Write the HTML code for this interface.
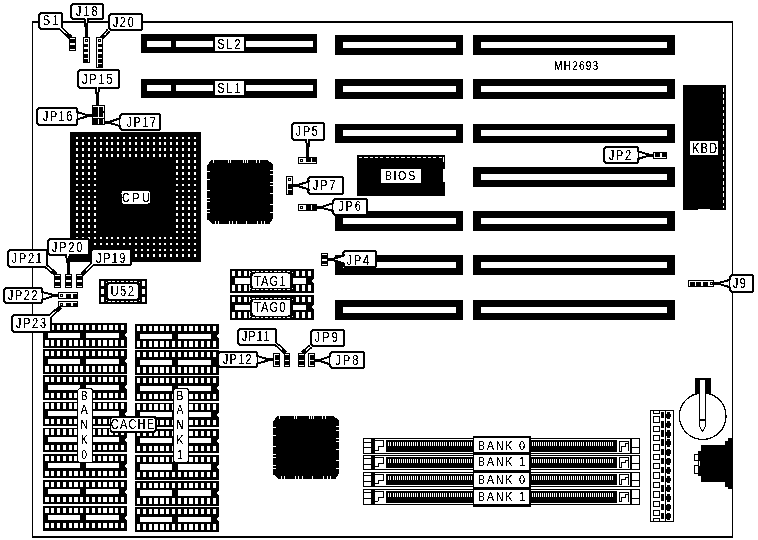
<!DOCTYPE html>
<html><head><meta charset="utf-8"><title>MH2693</title>
<style>
html,body{margin:0;padding:0;background:#fff;}
body{width:758px;height:540px;overflow:hidden;}
svg{display:block;font-family:"Liberation Sans",sans-serif;}
rect,polygon{shape-rendering:crispEdges;}
</style></head><body>
<svg width="758" height="540" viewBox="0 0 758 540">
<defs><filter id="bw" x="0" y="0" width="758" height="540" filterUnits="userSpaceOnUse" color-interpolation-filters="sRGB">
<feColorMatrix type="matrix" values="0.333 0.334 0.333 0 0  0.333 0.334 0.333 0 0  0.333 0.334 0.333 0 0  0 0 0 1 0"/>
<feComponentTransfer><feFuncR type="discrete" tableValues="0 0 0 1 1"/><feFuncG type="discrete" tableValues="0 0 0 1 1"/><feFuncB type="discrete" tableValues="0 0 0 1 1"/></feComponentTransfer>
</filter></defs>
<g filter="url(#bw)">
<rect x="0" y="0" width="758" height="540" fill="#fff"/>
<rect x="32.00" y="21.00" width="701.00" height="2.00" fill="#000" />
<rect x="32.00" y="536.00" width="701.00" height="2.00" fill="#000" />
<rect x="32.00" y="21.00" width="1.00" height="517.00" fill="#000" />
<rect x="732.00" y="21.00" width="1.00" height="517.00" fill="#000" />
<rect x="141.00" y="34.00" width="176.00" height="19.00" fill="#000" />
<rect x="147.00" y="41.00" width="24.00" height="6.00" fill="#fff" />
<rect x="176.00" y="41.00" width="137.00" height="6.00" fill="#fff" />
<rect x="141.00" y="79.00" width="176.00" height="19.00" fill="#000" />
<rect x="147.00" y="85.00" width="24.00" height="6.00" fill="#fff" />
<rect x="176.00" y="85.00" width="137.00" height="6.00" fill="#fff" />
<rect x="335.00" y="35.00" width="128.00" height="20.00" fill="#000" />
<rect x="343.00" y="42.00" width="113.00" height="6.00" fill="#fff" />
<rect x="473.00" y="35.00" width="202.00" height="20.00" fill="#000" />
<rect x="481.00" y="42.00" width="186.00" height="6.00" fill="#fff" />
<rect x="335.00" y="79.00" width="128.00" height="20.00" fill="#000" />
<rect x="343.00" y="86.00" width="113.00" height="6.00" fill="#fff" />
<rect x="473.00" y="79.00" width="202.00" height="20.00" fill="#000" />
<rect x="481.00" y="86.00" width="186.00" height="6.00" fill="#fff" />
<rect x="335.00" y="124.00" width="128.00" height="19.00" fill="#000" />
<rect x="343.00" y="130.00" width="113.00" height="6.00" fill="#fff" />
<rect x="473.00" y="124.00" width="202.00" height="19.00" fill="#000" />
<rect x="481.00" y="130.00" width="186.00" height="6.00" fill="#fff" />
<rect x="473.00" y="167.00" width="202.00" height="20.00" fill="#000" />
<rect x="481.00" y="174.00" width="186.00" height="6.00" fill="#fff" />
<rect x="335.00" y="211.00" width="128.00" height="20.00" fill="#000" />
<rect x="343.00" y="218.00" width="113.00" height="6.00" fill="#fff" />
<rect x="473.00" y="211.00" width="202.00" height="20.00" fill="#000" />
<rect x="481.00" y="218.00" width="186.00" height="6.00" fill="#fff" />
<rect x="335.00" y="255.00" width="128.00" height="20.00" fill="#000" />
<rect x="343.00" y="262.00" width="113.00" height="6.00" fill="#fff" />
<rect x="473.00" y="255.00" width="202.00" height="20.00" fill="#000" />
<rect x="481.00" y="262.00" width="186.00" height="6.00" fill="#fff" />
<rect x="335.00" y="300.00" width="128.00" height="20.00" fill="#000" />
<rect x="343.00" y="307.00" width="113.00" height="6.00" fill="#fff" />
<rect x="473.00" y="300.00" width="202.00" height="20.00" fill="#000" />
<rect x="481.00" y="307.00" width="186.00" height="6.00" fill="#fff" />
<rect x="70.00" y="132.00" width="131.20" height="129.60" fill="#000" />
<rect x="76.10" y="136.60" width="2.00" height="2.60" fill="#fff" />
<rect x="81.99" y="136.60" width="2.00" height="2.60" fill="#fff" />
<rect x="87.88" y="136.60" width="2.00" height="2.60" fill="#fff" />
<rect x="93.77" y="136.60" width="2.00" height="2.60" fill="#fff" />
<rect x="99.66" y="136.60" width="2.00" height="2.60" fill="#fff" />
<rect x="105.55" y="136.60" width="2.00" height="2.60" fill="#fff" />
<rect x="111.44" y="136.60" width="2.00" height="2.60" fill="#fff" />
<rect x="117.33" y="136.60" width="2.00" height="2.60" fill="#fff" />
<rect x="123.22" y="136.60" width="2.00" height="2.60" fill="#fff" />
<rect x="129.11" y="136.60" width="2.00" height="2.60" fill="#fff" />
<rect x="135.00" y="136.60" width="2.00" height="2.60" fill="#fff" />
<rect x="140.89" y="136.60" width="2.00" height="2.60" fill="#fff" />
<rect x="146.78" y="136.60" width="2.00" height="2.60" fill="#fff" />
<rect x="152.67" y="136.60" width="2.00" height="2.60" fill="#fff" />
<rect x="158.56" y="136.60" width="2.00" height="2.60" fill="#fff" />
<rect x="164.45" y="136.60" width="2.00" height="2.60" fill="#fff" />
<rect x="170.34" y="136.60" width="2.00" height="2.60" fill="#fff" />
<rect x="176.23" y="136.60" width="2.00" height="2.60" fill="#fff" />
<rect x="182.12" y="136.60" width="2.00" height="2.60" fill="#fff" />
<rect x="188.01" y="136.60" width="2.00" height="2.60" fill="#fff" />
<rect x="193.90" y="136.60" width="2.00" height="2.60" fill="#fff" />
<rect x="76.10" y="142.49" width="2.00" height="2.60" fill="#fff" />
<rect x="81.99" y="142.49" width="2.00" height="2.60" fill="#fff" />
<rect x="87.88" y="142.49" width="2.00" height="2.60" fill="#fff" />
<rect x="93.77" y="142.49" width="2.00" height="2.60" fill="#fff" />
<rect x="99.66" y="142.49" width="2.00" height="2.60" fill="#fff" />
<rect x="105.55" y="142.49" width="2.00" height="2.60" fill="#fff" />
<rect x="111.44" y="142.49" width="2.00" height="2.60" fill="#fff" />
<rect x="117.33" y="142.49" width="2.00" height="2.60" fill="#fff" />
<rect x="123.22" y="142.49" width="2.00" height="2.60" fill="#fff" />
<rect x="129.11" y="142.49" width="2.00" height="2.60" fill="#fff" />
<rect x="135.00" y="142.49" width="2.00" height="2.60" fill="#fff" />
<rect x="140.89" y="142.49" width="2.00" height="2.60" fill="#fff" />
<rect x="146.78" y="142.49" width="2.00" height="2.60" fill="#fff" />
<rect x="152.67" y="142.49" width="2.00" height="2.60" fill="#fff" />
<rect x="158.56" y="142.49" width="2.00" height="2.60" fill="#fff" />
<rect x="164.45" y="142.49" width="2.00" height="2.60" fill="#fff" />
<rect x="170.34" y="142.49" width="2.00" height="2.60" fill="#fff" />
<rect x="176.23" y="142.49" width="2.00" height="2.60" fill="#fff" />
<rect x="182.12" y="142.49" width="2.00" height="2.60" fill="#fff" />
<rect x="188.01" y="142.49" width="2.00" height="2.60" fill="#fff" />
<rect x="193.90" y="142.49" width="2.00" height="2.60" fill="#fff" />
<rect x="76.10" y="148.38" width="2.00" height="2.60" fill="#fff" />
<rect x="81.99" y="148.38" width="2.00" height="2.60" fill="#fff" />
<rect x="87.88" y="148.38" width="2.00" height="2.60" fill="#fff" />
<rect x="93.77" y="148.38" width="2.00" height="2.60" fill="#fff" />
<rect x="99.66" y="148.38" width="2.00" height="2.60" fill="#fff" />
<rect x="105.55" y="148.38" width="2.00" height="2.60" fill="#fff" />
<rect x="111.44" y="148.38" width="2.00" height="2.60" fill="#fff" />
<rect x="117.33" y="148.38" width="2.00" height="2.60" fill="#fff" />
<rect x="123.22" y="148.38" width="2.00" height="2.60" fill="#fff" />
<rect x="129.11" y="148.38" width="2.00" height="2.60" fill="#fff" />
<rect x="135.00" y="148.38" width="2.00" height="2.60" fill="#fff" />
<rect x="140.89" y="148.38" width="2.00" height="2.60" fill="#fff" />
<rect x="146.78" y="148.38" width="2.00" height="2.60" fill="#fff" />
<rect x="152.67" y="148.38" width="2.00" height="2.60" fill="#fff" />
<rect x="158.56" y="148.38" width="2.00" height="2.60" fill="#fff" />
<rect x="164.45" y="148.38" width="2.00" height="2.60" fill="#fff" />
<rect x="170.34" y="148.38" width="2.00" height="2.60" fill="#fff" />
<rect x="176.23" y="148.38" width="2.00" height="2.60" fill="#fff" />
<rect x="182.12" y="148.38" width="2.00" height="2.60" fill="#fff" />
<rect x="188.01" y="148.38" width="2.00" height="2.60" fill="#fff" />
<rect x="193.90" y="148.38" width="2.00" height="2.60" fill="#fff" />
<rect x="76.10" y="154.27" width="2.00" height="2.60" fill="#fff" />
<rect x="81.99" y="154.27" width="2.00" height="2.60" fill="#fff" />
<rect x="87.88" y="154.27" width="2.00" height="2.60" fill="#fff" />
<rect x="93.77" y="154.27" width="2.00" height="2.60" fill="#fff" />
<rect x="99.66" y="154.27" width="2.00" height="2.60" fill="#fff" />
<rect x="105.55" y="154.27" width="2.00" height="2.60" fill="#fff" />
<rect x="111.44" y="154.27" width="2.00" height="2.60" fill="#fff" />
<rect x="117.33" y="154.27" width="2.00" height="2.60" fill="#fff" />
<rect x="123.22" y="154.27" width="2.00" height="2.60" fill="#fff" />
<rect x="129.11" y="154.27" width="2.00" height="2.60" fill="#fff" />
<rect x="135.00" y="154.27" width="2.00" height="2.60" fill="#fff" />
<rect x="140.89" y="154.27" width="2.00" height="2.60" fill="#fff" />
<rect x="146.78" y="154.27" width="2.00" height="2.60" fill="#fff" />
<rect x="152.67" y="154.27" width="2.00" height="2.60" fill="#fff" />
<rect x="158.56" y="154.27" width="2.00" height="2.60" fill="#fff" />
<rect x="164.45" y="154.27" width="2.00" height="2.60" fill="#fff" />
<rect x="170.34" y="154.27" width="2.00" height="2.60" fill="#fff" />
<rect x="176.23" y="154.27" width="2.00" height="2.60" fill="#fff" />
<rect x="182.12" y="154.27" width="2.00" height="2.60" fill="#fff" />
<rect x="188.01" y="154.27" width="2.00" height="2.60" fill="#fff" />
<rect x="193.90" y="154.27" width="2.00" height="2.60" fill="#fff" />
<rect x="76.10" y="160.16" width="2.00" height="2.60" fill="#fff" />
<rect x="81.99" y="160.16" width="2.00" height="2.60" fill="#fff" />
<rect x="87.88" y="160.16" width="2.00" height="2.60" fill="#fff" />
<rect x="93.77" y="160.16" width="2.00" height="2.60" fill="#fff" />
<rect x="176.23" y="160.16" width="2.00" height="2.60" fill="#fff" />
<rect x="182.12" y="160.16" width="2.00" height="2.60" fill="#fff" />
<rect x="188.01" y="160.16" width="2.00" height="2.60" fill="#fff" />
<rect x="193.90" y="160.16" width="2.00" height="2.60" fill="#fff" />
<rect x="76.10" y="166.05" width="2.00" height="2.60" fill="#fff" />
<rect x="81.99" y="166.05" width="2.00" height="2.60" fill="#fff" />
<rect x="87.88" y="166.05" width="2.00" height="2.60" fill="#fff" />
<rect x="93.77" y="166.05" width="2.00" height="2.60" fill="#fff" />
<rect x="176.23" y="166.05" width="2.00" height="2.60" fill="#fff" />
<rect x="182.12" y="166.05" width="2.00" height="2.60" fill="#fff" />
<rect x="188.01" y="166.05" width="2.00" height="2.60" fill="#fff" />
<rect x="193.90" y="166.05" width="2.00" height="2.60" fill="#fff" />
<rect x="76.10" y="171.94" width="2.00" height="2.60" fill="#fff" />
<rect x="81.99" y="171.94" width="2.00" height="2.60" fill="#fff" />
<rect x="87.88" y="171.94" width="2.00" height="2.60" fill="#fff" />
<rect x="93.77" y="171.94" width="2.00" height="2.60" fill="#fff" />
<rect x="176.23" y="171.94" width="2.00" height="2.60" fill="#fff" />
<rect x="182.12" y="171.94" width="2.00" height="2.60" fill="#fff" />
<rect x="188.01" y="171.94" width="2.00" height="2.60" fill="#fff" />
<rect x="193.90" y="171.94" width="2.00" height="2.60" fill="#fff" />
<rect x="76.10" y="177.83" width="2.00" height="2.60" fill="#fff" />
<rect x="81.99" y="177.83" width="2.00" height="2.60" fill="#fff" />
<rect x="87.88" y="177.83" width="2.00" height="2.60" fill="#fff" />
<rect x="93.77" y="177.83" width="2.00" height="2.60" fill="#fff" />
<rect x="176.23" y="177.83" width="2.00" height="2.60" fill="#fff" />
<rect x="182.12" y="177.83" width="2.00" height="2.60" fill="#fff" />
<rect x="188.01" y="177.83" width="2.00" height="2.60" fill="#fff" />
<rect x="193.90" y="177.83" width="2.00" height="2.60" fill="#fff" />
<rect x="76.10" y="183.72" width="2.00" height="2.60" fill="#fff" />
<rect x="81.99" y="183.72" width="2.00" height="2.60" fill="#fff" />
<rect x="87.88" y="183.72" width="2.00" height="2.60" fill="#fff" />
<rect x="93.77" y="183.72" width="2.00" height="2.60" fill="#fff" />
<rect x="176.23" y="183.72" width="2.00" height="2.60" fill="#fff" />
<rect x="182.12" y="183.72" width="2.00" height="2.60" fill="#fff" />
<rect x="188.01" y="183.72" width="2.00" height="2.60" fill="#fff" />
<rect x="193.90" y="183.72" width="2.00" height="2.60" fill="#fff" />
<rect x="76.10" y="189.61" width="2.00" height="2.60" fill="#fff" />
<rect x="81.99" y="189.61" width="2.00" height="2.60" fill="#fff" />
<rect x="87.88" y="189.61" width="2.00" height="2.60" fill="#fff" />
<rect x="93.77" y="189.61" width="2.00" height="2.60" fill="#fff" />
<rect x="176.23" y="189.61" width="2.00" height="2.60" fill="#fff" />
<rect x="182.12" y="189.61" width="2.00" height="2.60" fill="#fff" />
<rect x="188.01" y="189.61" width="2.00" height="2.60" fill="#fff" />
<rect x="193.90" y="189.61" width="2.00" height="2.60" fill="#fff" />
<rect x="76.10" y="195.50" width="2.00" height="2.60" fill="#fff" />
<rect x="81.99" y="195.50" width="2.00" height="2.60" fill="#fff" />
<rect x="87.88" y="195.50" width="2.00" height="2.60" fill="#fff" />
<rect x="93.77" y="195.50" width="2.00" height="2.60" fill="#fff" />
<rect x="176.23" y="195.50" width="2.00" height="2.60" fill="#fff" />
<rect x="182.12" y="195.50" width="2.00" height="2.60" fill="#fff" />
<rect x="188.01" y="195.50" width="2.00" height="2.60" fill="#fff" />
<rect x="193.90" y="195.50" width="2.00" height="2.60" fill="#fff" />
<rect x="76.10" y="201.39" width="2.00" height="2.60" fill="#fff" />
<rect x="81.99" y="201.39" width="2.00" height="2.60" fill="#fff" />
<rect x="87.88" y="201.39" width="2.00" height="2.60" fill="#fff" />
<rect x="93.77" y="201.39" width="2.00" height="2.60" fill="#fff" />
<rect x="176.23" y="201.39" width="2.00" height="2.60" fill="#fff" />
<rect x="182.12" y="201.39" width="2.00" height="2.60" fill="#fff" />
<rect x="188.01" y="201.39" width="2.00" height="2.60" fill="#fff" />
<rect x="193.90" y="201.39" width="2.00" height="2.60" fill="#fff" />
<rect x="76.10" y="207.28" width="2.00" height="2.60" fill="#fff" />
<rect x="81.99" y="207.28" width="2.00" height="2.60" fill="#fff" />
<rect x="87.88" y="207.28" width="2.00" height="2.60" fill="#fff" />
<rect x="93.77" y="207.28" width="2.00" height="2.60" fill="#fff" />
<rect x="176.23" y="207.28" width="2.00" height="2.60" fill="#fff" />
<rect x="182.12" y="207.28" width="2.00" height="2.60" fill="#fff" />
<rect x="188.01" y="207.28" width="2.00" height="2.60" fill="#fff" />
<rect x="193.90" y="207.28" width="2.00" height="2.60" fill="#fff" />
<rect x="76.10" y="213.17" width="2.00" height="2.60" fill="#fff" />
<rect x="81.99" y="213.17" width="2.00" height="2.60" fill="#fff" />
<rect x="87.88" y="213.17" width="2.00" height="2.60" fill="#fff" />
<rect x="93.77" y="213.17" width="2.00" height="2.60" fill="#fff" />
<rect x="176.23" y="213.17" width="2.00" height="2.60" fill="#fff" />
<rect x="182.12" y="213.17" width="2.00" height="2.60" fill="#fff" />
<rect x="188.01" y="213.17" width="2.00" height="2.60" fill="#fff" />
<rect x="193.90" y="213.17" width="2.00" height="2.60" fill="#fff" />
<rect x="76.10" y="219.06" width="2.00" height="2.60" fill="#fff" />
<rect x="81.99" y="219.06" width="2.00" height="2.60" fill="#fff" />
<rect x="87.88" y="219.06" width="2.00" height="2.60" fill="#fff" />
<rect x="93.77" y="219.06" width="2.00" height="2.60" fill="#fff" />
<rect x="176.23" y="219.06" width="2.00" height="2.60" fill="#fff" />
<rect x="182.12" y="219.06" width="2.00" height="2.60" fill="#fff" />
<rect x="188.01" y="219.06" width="2.00" height="2.60" fill="#fff" />
<rect x="193.90" y="219.06" width="2.00" height="2.60" fill="#fff" />
<rect x="76.10" y="224.95" width="2.00" height="2.60" fill="#fff" />
<rect x="81.99" y="224.95" width="2.00" height="2.60" fill="#fff" />
<rect x="87.88" y="224.95" width="2.00" height="2.60" fill="#fff" />
<rect x="93.77" y="224.95" width="2.00" height="2.60" fill="#fff" />
<rect x="176.23" y="224.95" width="2.00" height="2.60" fill="#fff" />
<rect x="182.12" y="224.95" width="2.00" height="2.60" fill="#fff" />
<rect x="188.01" y="224.95" width="2.00" height="2.60" fill="#fff" />
<rect x="193.90" y="224.95" width="2.00" height="2.60" fill="#fff" />
<rect x="76.10" y="230.84" width="2.00" height="2.60" fill="#fff" />
<rect x="81.99" y="230.84" width="2.00" height="2.60" fill="#fff" />
<rect x="87.88" y="230.84" width="2.00" height="2.60" fill="#fff" />
<rect x="93.77" y="230.84" width="2.00" height="2.60" fill="#fff" />
<rect x="176.23" y="230.84" width="2.00" height="2.60" fill="#fff" />
<rect x="182.12" y="230.84" width="2.00" height="2.60" fill="#fff" />
<rect x="188.01" y="230.84" width="2.00" height="2.60" fill="#fff" />
<rect x="193.90" y="230.84" width="2.00" height="2.60" fill="#fff" />
<rect x="76.10" y="236.73" width="2.00" height="2.60" fill="#fff" />
<rect x="81.99" y="236.73" width="2.00" height="2.60" fill="#fff" />
<rect x="87.88" y="236.73" width="2.00" height="2.60" fill="#fff" />
<rect x="93.77" y="236.73" width="2.00" height="2.60" fill="#fff" />
<rect x="99.66" y="236.73" width="2.00" height="2.60" fill="#fff" />
<rect x="105.55" y="236.73" width="2.00" height="2.60" fill="#fff" />
<rect x="111.44" y="236.73" width="2.00" height="2.60" fill="#fff" />
<rect x="117.33" y="236.73" width="2.00" height="2.60" fill="#fff" />
<rect x="123.22" y="236.73" width="2.00" height="2.60" fill="#fff" />
<rect x="129.11" y="236.73" width="2.00" height="2.60" fill="#fff" />
<rect x="135.00" y="236.73" width="2.00" height="2.60" fill="#fff" />
<rect x="140.89" y="236.73" width="2.00" height="2.60" fill="#fff" />
<rect x="146.78" y="236.73" width="2.00" height="2.60" fill="#fff" />
<rect x="152.67" y="236.73" width="2.00" height="2.60" fill="#fff" />
<rect x="158.56" y="236.73" width="2.00" height="2.60" fill="#fff" />
<rect x="164.45" y="236.73" width="2.00" height="2.60" fill="#fff" />
<rect x="170.34" y="236.73" width="2.00" height="2.60" fill="#fff" />
<rect x="176.23" y="236.73" width="2.00" height="2.60" fill="#fff" />
<rect x="182.12" y="236.73" width="2.00" height="2.60" fill="#fff" />
<rect x="188.01" y="236.73" width="2.00" height="2.60" fill="#fff" />
<rect x="193.90" y="236.73" width="2.00" height="2.60" fill="#fff" />
<rect x="76.10" y="242.62" width="2.00" height="2.60" fill="#fff" />
<rect x="81.99" y="242.62" width="2.00" height="2.60" fill="#fff" />
<rect x="87.88" y="242.62" width="2.00" height="2.60" fill="#fff" />
<rect x="93.77" y="242.62" width="2.00" height="2.60" fill="#fff" />
<rect x="99.66" y="242.62" width="2.00" height="2.60" fill="#fff" />
<rect x="105.55" y="242.62" width="2.00" height="2.60" fill="#fff" />
<rect x="111.44" y="242.62" width="2.00" height="2.60" fill="#fff" />
<rect x="117.33" y="242.62" width="2.00" height="2.60" fill="#fff" />
<rect x="123.22" y="242.62" width="2.00" height="2.60" fill="#fff" />
<rect x="129.11" y="242.62" width="2.00" height="2.60" fill="#fff" />
<rect x="135.00" y="242.62" width="2.00" height="2.60" fill="#fff" />
<rect x="140.89" y="242.62" width="2.00" height="2.60" fill="#fff" />
<rect x="146.78" y="242.62" width="2.00" height="2.60" fill="#fff" />
<rect x="152.67" y="242.62" width="2.00" height="2.60" fill="#fff" />
<rect x="158.56" y="242.62" width="2.00" height="2.60" fill="#fff" />
<rect x="164.45" y="242.62" width="2.00" height="2.60" fill="#fff" />
<rect x="170.34" y="242.62" width="2.00" height="2.60" fill="#fff" />
<rect x="176.23" y="242.62" width="2.00" height="2.60" fill="#fff" />
<rect x="182.12" y="242.62" width="2.00" height="2.60" fill="#fff" />
<rect x="188.01" y="242.62" width="2.00" height="2.60" fill="#fff" />
<rect x="193.90" y="242.62" width="2.00" height="2.60" fill="#fff" />
<rect x="76.10" y="248.51" width="2.00" height="2.60" fill="#fff" />
<rect x="81.99" y="248.51" width="2.00" height="2.60" fill="#fff" />
<rect x="87.88" y="248.51" width="2.00" height="2.60" fill="#fff" />
<rect x="93.77" y="248.51" width="2.00" height="2.60" fill="#fff" />
<rect x="99.66" y="248.51" width="2.00" height="2.60" fill="#fff" />
<rect x="105.55" y="248.51" width="2.00" height="2.60" fill="#fff" />
<rect x="111.44" y="248.51" width="2.00" height="2.60" fill="#fff" />
<rect x="117.33" y="248.51" width="2.00" height="2.60" fill="#fff" />
<rect x="123.22" y="248.51" width="2.00" height="2.60" fill="#fff" />
<rect x="129.11" y="248.51" width="2.00" height="2.60" fill="#fff" />
<rect x="135.00" y="248.51" width="2.00" height="2.60" fill="#fff" />
<rect x="140.89" y="248.51" width="2.00" height="2.60" fill="#fff" />
<rect x="146.78" y="248.51" width="2.00" height="2.60" fill="#fff" />
<rect x="152.67" y="248.51" width="2.00" height="2.60" fill="#fff" />
<rect x="158.56" y="248.51" width="2.00" height="2.60" fill="#fff" />
<rect x="164.45" y="248.51" width="2.00" height="2.60" fill="#fff" />
<rect x="170.34" y="248.51" width="2.00" height="2.60" fill="#fff" />
<rect x="176.23" y="248.51" width="2.00" height="2.60" fill="#fff" />
<rect x="182.12" y="248.51" width="2.00" height="2.60" fill="#fff" />
<rect x="188.01" y="248.51" width="2.00" height="2.60" fill="#fff" />
<rect x="193.90" y="248.51" width="2.00" height="2.60" fill="#fff" />
<rect x="76.10" y="254.40" width="2.00" height="2.60" fill="#fff" />
<rect x="81.99" y="254.40" width="2.00" height="2.60" fill="#fff" />
<rect x="87.88" y="254.40" width="2.00" height="2.60" fill="#fff" />
<rect x="93.77" y="254.40" width="2.00" height="2.60" fill="#fff" />
<rect x="99.66" y="254.40" width="2.00" height="2.60" fill="#fff" />
<rect x="105.55" y="254.40" width="2.00" height="2.60" fill="#fff" />
<rect x="111.44" y="254.40" width="2.00" height="2.60" fill="#fff" />
<rect x="117.33" y="254.40" width="2.00" height="2.60" fill="#fff" />
<rect x="123.22" y="254.40" width="2.00" height="2.60" fill="#fff" />
<rect x="129.11" y="254.40" width="2.00" height="2.60" fill="#fff" />
<rect x="135.00" y="254.40" width="2.00" height="2.60" fill="#fff" />
<rect x="140.89" y="254.40" width="2.00" height="2.60" fill="#fff" />
<rect x="146.78" y="254.40" width="2.00" height="2.60" fill="#fff" />
<rect x="152.67" y="254.40" width="2.00" height="2.60" fill="#fff" />
<rect x="158.56" y="254.40" width="2.00" height="2.60" fill="#fff" />
<rect x="164.45" y="254.40" width="2.00" height="2.60" fill="#fff" />
<rect x="170.34" y="254.40" width="2.00" height="2.60" fill="#fff" />
<rect x="176.23" y="254.40" width="2.00" height="2.60" fill="#fff" />
<rect x="182.12" y="254.40" width="2.00" height="2.60" fill="#fff" />
<rect x="188.01" y="254.40" width="2.00" height="2.60" fill="#fff" />
<rect x="193.90" y="254.40" width="2.00" height="2.60" fill="#fff" />
<rect x="121.5" y="191" width="28.8" height="12.6" rx="2.5" fill="#fff"/>
<text transform="translate(122.04,201.90) scale(0.8,1)" font-size="13.6" letter-spacing="3.03" text-anchor="start" fill="#000">CPU</text>
<polygon points="211.00,160.00 267.40,160.00 273.00,164.00 273.00,218.00 269.60,224.00 213.00,224.00 207.00,219.30 207.00,166.00" fill="#000"/>
<rect x="210.00" y="163.00" width="2.00" height="3.00" fill="#000" />
<rect x="269.00" y="219.00" width="2.00" height="3.00" fill="#000" />
<rect x="213.00" y="160.00" width="1.00" height="3.00" fill="#fff" />
<rect x="228.00" y="160.00" width="1.00" height="3.00" fill="#fff" />
<rect x="230.00" y="160.00" width="1.00" height="3.00" fill="#fff" />
<rect x="243.00" y="160.00" width="1.00" height="3.00" fill="#fff" />
<rect x="245.00" y="160.00" width="1.00" height="3.00" fill="#fff" />
<rect x="247.00" y="160.00" width="1.00" height="3.00" fill="#fff" />
<rect x="256.00" y="160.00" width="1.00" height="3.00" fill="#fff" />
<rect x="259.00" y="160.00" width="1.00" height="3.00" fill="#fff" />
<rect x="215.00" y="221.00" width="1.00" height="3.00" fill="#fff" />
<rect x="218.00" y="221.00" width="1.00" height="3.00" fill="#fff" />
<rect x="229.00" y="221.00" width="1.00" height="3.00" fill="#fff" />
<rect x="232.00" y="221.00" width="1.00" height="3.00" fill="#fff" />
<rect x="236.00" y="221.00" width="1.00" height="3.00" fill="#fff" />
<rect x="246.00" y="221.00" width="1.00" height="3.00" fill="#fff" />
<rect x="257.00" y="221.00" width="1.00" height="3.00" fill="#fff" />
<rect x="261.00" y="221.00" width="1.00" height="3.00" fill="#fff" />
<rect x="264.00" y="221.00" width="1.00" height="3.00" fill="#fff" />
<rect x="207.00" y="171.00" width="3.00" height="1.00" fill="#fff" />
<rect x="207.00" y="179.00" width="3.00" height="1.00" fill="#fff" />
<rect x="207.00" y="190.00" width="3.00" height="1.00" fill="#fff" />
<rect x="207.00" y="198.00" width="3.00" height="1.00" fill="#fff" />
<rect x="207.00" y="201.00" width="3.00" height="1.00" fill="#fff" />
<rect x="207.00" y="209.00" width="3.00" height="1.00" fill="#fff" />
<rect x="207.00" y="212.00" width="3.00" height="1.00" fill="#fff" />
<rect x="270.00" y="170.00" width="3.00" height="1.00" fill="#fff" />
<rect x="270.00" y="174.00" width="3.00" height="1.00" fill="#fff" />
<rect x="270.00" y="182.00" width="3.00" height="1.00" fill="#fff" />
<rect x="270.00" y="185.00" width="3.00" height="1.00" fill="#fff" />
<rect x="270.00" y="193.00" width="3.00" height="1.00" fill="#fff" />
<rect x="270.00" y="204.00" width="3.00" height="1.00" fill="#fff" />
<rect x="270.00" y="212.00" width="3.00" height="1.00" fill="#fff" />
<polygon points="277.00,416.00 333.40,416.00 339.00,420.00 339.00,473.00 335.60,479.00 279.00,479.00 273.00,474.30 273.00,422.00" fill="#000"/>
<rect x="276.00" y="419.00" width="2.00" height="3.00" fill="#000" />
<rect x="335.00" y="474.00" width="2.00" height="3.00" fill="#000" />
<rect x="279.00" y="416.00" width="1.00" height="3.00" fill="#fff" />
<rect x="294.00" y="416.00" width="1.00" height="3.00" fill="#fff" />
<rect x="296.00" y="416.00" width="1.00" height="3.00" fill="#fff" />
<rect x="309.00" y="416.00" width="1.00" height="3.00" fill="#fff" />
<rect x="311.00" y="416.00" width="1.00" height="3.00" fill="#fff" />
<rect x="313.00" y="416.00" width="1.00" height="3.00" fill="#fff" />
<rect x="322.00" y="416.00" width="1.00" height="3.00" fill="#fff" />
<rect x="325.00" y="416.00" width="1.00" height="3.00" fill="#fff" />
<rect x="281.00" y="476.00" width="1.00" height="3.00" fill="#fff" />
<rect x="284.00" y="476.00" width="1.00" height="3.00" fill="#fff" />
<rect x="295.00" y="476.00" width="1.00" height="3.00" fill="#fff" />
<rect x="298.00" y="476.00" width="1.00" height="3.00" fill="#fff" />
<rect x="302.00" y="476.00" width="1.00" height="3.00" fill="#fff" />
<rect x="312.00" y="476.00" width="1.00" height="3.00" fill="#fff" />
<rect x="323.00" y="476.00" width="1.00" height="3.00" fill="#fff" />
<rect x="327.00" y="476.00" width="1.00" height="3.00" fill="#fff" />
<rect x="330.00" y="476.00" width="1.00" height="3.00" fill="#fff" />
<rect x="273.00" y="427.00" width="3.00" height="1.00" fill="#fff" />
<rect x="273.00" y="435.00" width="3.00" height="1.00" fill="#fff" />
<rect x="273.00" y="446.00" width="3.00" height="1.00" fill="#fff" />
<rect x="273.00" y="454.00" width="3.00" height="1.00" fill="#fff" />
<rect x="273.00" y="457.00" width="3.00" height="1.00" fill="#fff" />
<rect x="273.00" y="465.00" width="3.00" height="1.00" fill="#fff" />
<rect x="273.00" y="468.00" width="3.00" height="1.00" fill="#fff" />
<rect x="336.00" y="426.00" width="3.00" height="1.00" fill="#fff" />
<rect x="336.00" y="430.00" width="3.00" height="1.00" fill="#fff" />
<rect x="336.00" y="438.00" width="3.00" height="1.00" fill="#fff" />
<rect x="336.00" y="441.00" width="3.00" height="1.00" fill="#fff" />
<rect x="336.00" y="449.00" width="3.00" height="1.00" fill="#fff" />
<rect x="336.00" y="460.00" width="3.00" height="1.00" fill="#fff" />
<rect x="336.00" y="468.00" width="3.00" height="1.00" fill="#fff" />
<rect x="357.00" y="155.00" width="88.00" height="40.60" fill="#000" />
<rect x="443.00" y="169.00" width="2.00" height="12.60" fill="#fff" />
<path d="M359,157.5 H443" fill="none" stroke="#fff" stroke-width="1" stroke-dasharray="3.2,2.1" shape-rendering="crispEdges"/>
<rect x="443.00" y="157.00" width="1.00" height="5.00" fill="#fff" />
<rect x="381.00" y="169.00" width="40.00" height="14.00" fill="#fff" />
<text transform="translate(384.64,179.90) scale(0.8,1)" font-size="13.6" letter-spacing="1.97" text-anchor="start" fill="#000">BIOS</text>
<rect x="683.00" y="85.00" width="43.00" height="125.40" fill="#000" />
<rect x="698.00" y="209.40" width="12.00" height="1.20" fill="#fff" />
<path d="M723.5,88 V208" fill="none" stroke="#fff" stroke-width="1" stroke-dasharray="3.5,2.7" shape-rendering="crispEdges"/>
<rect x="690.00" y="141.00" width="28.00" height="13.60" fill="#fff" />
<text transform="translate(692.02,152.60) scale(0.8,1)" font-size="14" letter-spacing="1.34" text-anchor="start" fill="#000">KBD</text>
<rect x="43.30" y="323.30" width="84.00" height="24.70" fill="#000" />
<rect x="45.30" y="325.10" width="3.30" height="5.20" fill="#fff" />
<rect x="45.30" y="340.40" width="3.30" height="5.40" fill="#fff" />
<rect x="51.11" y="325.10" width="3.30" height="5.20" fill="#fff" />
<rect x="51.11" y="340.40" width="3.30" height="5.40" fill="#fff" />
<rect x="56.93" y="325.10" width="3.30" height="5.20" fill="#fff" />
<rect x="56.93" y="340.40" width="3.30" height="5.40" fill="#fff" />
<rect x="62.74" y="325.10" width="3.30" height="5.20" fill="#fff" />
<rect x="62.74" y="340.40" width="3.30" height="5.40" fill="#fff" />
<rect x="68.56" y="325.10" width="3.30" height="5.20" fill="#fff" />
<rect x="68.56" y="340.40" width="3.30" height="5.40" fill="#fff" />
<rect x="74.37" y="325.10" width="3.30" height="5.20" fill="#fff" />
<rect x="74.37" y="340.40" width="3.30" height="5.40" fill="#fff" />
<rect x="80.19" y="325.10" width="3.30" height="5.20" fill="#fff" />
<rect x="80.19" y="340.40" width="3.30" height="5.40" fill="#fff" />
<rect x="86.00" y="325.10" width="3.30" height="5.20" fill="#fff" />
<rect x="86.00" y="340.40" width="3.30" height="5.40" fill="#fff" />
<rect x="91.81" y="325.10" width="3.30" height="5.20" fill="#fff" />
<rect x="91.81" y="340.40" width="3.30" height="5.40" fill="#fff" />
<rect x="97.63" y="325.10" width="3.30" height="5.20" fill="#fff" />
<rect x="97.63" y="340.40" width="3.30" height="5.40" fill="#fff" />
<rect x="103.44" y="325.10" width="3.30" height="5.20" fill="#fff" />
<rect x="103.44" y="340.40" width="3.30" height="5.40" fill="#fff" />
<rect x="109.26" y="325.10" width="3.30" height="5.20" fill="#fff" />
<rect x="109.26" y="340.40" width="3.30" height="5.40" fill="#fff" />
<rect x="115.07" y="325.10" width="3.30" height="5.20" fill="#fff" />
<rect x="115.07" y="340.40" width="3.30" height="5.40" fill="#fff" />
<rect x="120.89" y="325.10" width="3.30" height="5.20" fill="#fff" />
<rect x="120.89" y="340.40" width="3.30" height="5.40" fill="#fff" />
<rect x="47.90" y="332.70" width="32.30" height="5.20" fill="#fff" />
<rect x="85.90" y="332.70" width="33.20" height="5.20" fill="#fff" />
<rect x="126.30" y="333.30" width="1.00" height="4.00" fill="#fff" />
<rect x="125.30" y="334.30" width="1.00" height="2.00" fill="#fff" />
<rect x="135.00" y="324.20" width="84.00" height="24.70" fill="#000" />
<rect x="137.00" y="326.00" width="3.30" height="5.20" fill="#fff" />
<rect x="137.00" y="341.30" width="3.30" height="5.40" fill="#fff" />
<rect x="142.81" y="326.00" width="3.30" height="5.20" fill="#fff" />
<rect x="142.81" y="341.30" width="3.30" height="5.40" fill="#fff" />
<rect x="148.63" y="326.00" width="3.30" height="5.20" fill="#fff" />
<rect x="148.63" y="341.30" width="3.30" height="5.40" fill="#fff" />
<rect x="154.44" y="326.00" width="3.30" height="5.20" fill="#fff" />
<rect x="154.44" y="341.30" width="3.30" height="5.40" fill="#fff" />
<rect x="160.26" y="326.00" width="3.30" height="5.20" fill="#fff" />
<rect x="160.26" y="341.30" width="3.30" height="5.40" fill="#fff" />
<rect x="166.07" y="326.00" width="3.30" height="5.20" fill="#fff" />
<rect x="166.07" y="341.30" width="3.30" height="5.40" fill="#fff" />
<rect x="171.89" y="326.00" width="3.30" height="5.20" fill="#fff" />
<rect x="171.89" y="341.30" width="3.30" height="5.40" fill="#fff" />
<rect x="177.70" y="326.00" width="3.30" height="5.20" fill="#fff" />
<rect x="177.70" y="341.30" width="3.30" height="5.40" fill="#fff" />
<rect x="183.51" y="326.00" width="3.30" height="5.20" fill="#fff" />
<rect x="183.51" y="341.30" width="3.30" height="5.40" fill="#fff" />
<rect x="189.33" y="326.00" width="3.30" height="5.20" fill="#fff" />
<rect x="189.33" y="341.30" width="3.30" height="5.40" fill="#fff" />
<rect x="195.14" y="326.00" width="3.30" height="5.20" fill="#fff" />
<rect x="195.14" y="341.30" width="3.30" height="5.40" fill="#fff" />
<rect x="200.96" y="326.00" width="3.30" height="5.20" fill="#fff" />
<rect x="200.96" y="341.30" width="3.30" height="5.40" fill="#fff" />
<rect x="206.77" y="326.00" width="3.30" height="5.20" fill="#fff" />
<rect x="206.77" y="341.30" width="3.30" height="5.40" fill="#fff" />
<rect x="212.59" y="326.00" width="3.30" height="5.20" fill="#fff" />
<rect x="212.59" y="341.30" width="3.30" height="5.40" fill="#fff" />
<rect x="139.60" y="333.60" width="32.30" height="5.20" fill="#fff" />
<rect x="177.60" y="333.60" width="33.20" height="5.20" fill="#fff" />
<rect x="218.00" y="334.20" width="1.00" height="4.00" fill="#fff" />
<rect x="217.00" y="335.20" width="1.00" height="2.00" fill="#fff" />
<rect x="43.30" y="349.38" width="84.00" height="24.70" fill="#000" />
<rect x="45.30" y="351.18" width="3.30" height="5.20" fill="#fff" />
<rect x="45.30" y="366.48" width="3.30" height="5.40" fill="#fff" />
<rect x="51.11" y="351.18" width="3.30" height="5.20" fill="#fff" />
<rect x="51.11" y="366.48" width="3.30" height="5.40" fill="#fff" />
<rect x="56.93" y="351.18" width="3.30" height="5.20" fill="#fff" />
<rect x="56.93" y="366.48" width="3.30" height="5.40" fill="#fff" />
<rect x="62.74" y="351.18" width="3.30" height="5.20" fill="#fff" />
<rect x="62.74" y="366.48" width="3.30" height="5.40" fill="#fff" />
<rect x="68.56" y="351.18" width="3.30" height="5.20" fill="#fff" />
<rect x="68.56" y="366.48" width="3.30" height="5.40" fill="#fff" />
<rect x="74.37" y="351.18" width="3.30" height="5.20" fill="#fff" />
<rect x="74.37" y="366.48" width="3.30" height="5.40" fill="#fff" />
<rect x="80.19" y="351.18" width="3.30" height="5.20" fill="#fff" />
<rect x="80.19" y="366.48" width="3.30" height="5.40" fill="#fff" />
<rect x="86.00" y="351.18" width="3.30" height="5.20" fill="#fff" />
<rect x="86.00" y="366.48" width="3.30" height="5.40" fill="#fff" />
<rect x="91.81" y="351.18" width="3.30" height="5.20" fill="#fff" />
<rect x="91.81" y="366.48" width="3.30" height="5.40" fill="#fff" />
<rect x="97.63" y="351.18" width="3.30" height="5.20" fill="#fff" />
<rect x="97.63" y="366.48" width="3.30" height="5.40" fill="#fff" />
<rect x="103.44" y="351.18" width="3.30" height="5.20" fill="#fff" />
<rect x="103.44" y="366.48" width="3.30" height="5.40" fill="#fff" />
<rect x="109.26" y="351.18" width="3.30" height="5.20" fill="#fff" />
<rect x="109.26" y="366.48" width="3.30" height="5.40" fill="#fff" />
<rect x="115.07" y="351.18" width="3.30" height="5.20" fill="#fff" />
<rect x="115.07" y="366.48" width="3.30" height="5.40" fill="#fff" />
<rect x="120.89" y="351.18" width="3.30" height="5.20" fill="#fff" />
<rect x="120.89" y="366.48" width="3.30" height="5.40" fill="#fff" />
<rect x="47.90" y="358.78" width="32.30" height="5.20" fill="#fff" />
<rect x="85.90" y="358.78" width="33.20" height="5.20" fill="#fff" />
<rect x="126.30" y="359.38" width="1.00" height="4.00" fill="#fff" />
<rect x="125.30" y="360.38" width="1.00" height="2.00" fill="#fff" />
<rect x="135.00" y="350.34" width="84.00" height="24.70" fill="#000" />
<rect x="137.00" y="352.14" width="3.30" height="5.20" fill="#fff" />
<rect x="137.00" y="367.44" width="3.30" height="5.40" fill="#fff" />
<rect x="142.81" y="352.14" width="3.30" height="5.20" fill="#fff" />
<rect x="142.81" y="367.44" width="3.30" height="5.40" fill="#fff" />
<rect x="148.63" y="352.14" width="3.30" height="5.20" fill="#fff" />
<rect x="148.63" y="367.44" width="3.30" height="5.40" fill="#fff" />
<rect x="154.44" y="352.14" width="3.30" height="5.20" fill="#fff" />
<rect x="154.44" y="367.44" width="3.30" height="5.40" fill="#fff" />
<rect x="160.26" y="352.14" width="3.30" height="5.20" fill="#fff" />
<rect x="160.26" y="367.44" width="3.30" height="5.40" fill="#fff" />
<rect x="166.07" y="352.14" width="3.30" height="5.20" fill="#fff" />
<rect x="166.07" y="367.44" width="3.30" height="5.40" fill="#fff" />
<rect x="171.89" y="352.14" width="3.30" height="5.20" fill="#fff" />
<rect x="171.89" y="367.44" width="3.30" height="5.40" fill="#fff" />
<rect x="177.70" y="352.14" width="3.30" height="5.20" fill="#fff" />
<rect x="177.70" y="367.44" width="3.30" height="5.40" fill="#fff" />
<rect x="183.51" y="352.14" width="3.30" height="5.20" fill="#fff" />
<rect x="183.51" y="367.44" width="3.30" height="5.40" fill="#fff" />
<rect x="189.33" y="352.14" width="3.30" height="5.20" fill="#fff" />
<rect x="189.33" y="367.44" width="3.30" height="5.40" fill="#fff" />
<rect x="195.14" y="352.14" width="3.30" height="5.20" fill="#fff" />
<rect x="195.14" y="367.44" width="3.30" height="5.40" fill="#fff" />
<rect x="200.96" y="352.14" width="3.30" height="5.20" fill="#fff" />
<rect x="200.96" y="367.44" width="3.30" height="5.40" fill="#fff" />
<rect x="206.77" y="352.14" width="3.30" height="5.20" fill="#fff" />
<rect x="206.77" y="367.44" width="3.30" height="5.40" fill="#fff" />
<rect x="212.59" y="352.14" width="3.30" height="5.20" fill="#fff" />
<rect x="212.59" y="367.44" width="3.30" height="5.40" fill="#fff" />
<rect x="139.60" y="359.74" width="32.30" height="5.20" fill="#fff" />
<rect x="177.60" y="359.74" width="33.20" height="5.20" fill="#fff" />
<rect x="218.00" y="360.34" width="1.00" height="4.00" fill="#fff" />
<rect x="217.00" y="361.34" width="1.00" height="2.00" fill="#fff" />
<rect x="43.30" y="375.46" width="84.00" height="24.70" fill="#000" />
<rect x="45.30" y="377.26" width="3.30" height="5.20" fill="#fff" />
<rect x="45.30" y="392.56" width="3.30" height="5.40" fill="#fff" />
<rect x="51.11" y="377.26" width="3.30" height="5.20" fill="#fff" />
<rect x="51.11" y="392.56" width="3.30" height="5.40" fill="#fff" />
<rect x="56.93" y="377.26" width="3.30" height="5.20" fill="#fff" />
<rect x="56.93" y="392.56" width="3.30" height="5.40" fill="#fff" />
<rect x="62.74" y="377.26" width="3.30" height="5.20" fill="#fff" />
<rect x="62.74" y="392.56" width="3.30" height="5.40" fill="#fff" />
<rect x="68.56" y="377.26" width="3.30" height="5.20" fill="#fff" />
<rect x="68.56" y="392.56" width="3.30" height="5.40" fill="#fff" />
<rect x="74.37" y="377.26" width="3.30" height="5.20" fill="#fff" />
<rect x="74.37" y="392.56" width="3.30" height="5.40" fill="#fff" />
<rect x="80.19" y="377.26" width="3.30" height="5.20" fill="#fff" />
<rect x="80.19" y="392.56" width="3.30" height="5.40" fill="#fff" />
<rect x="86.00" y="377.26" width="3.30" height="5.20" fill="#fff" />
<rect x="86.00" y="392.56" width="3.30" height="5.40" fill="#fff" />
<rect x="91.81" y="377.26" width="3.30" height="5.20" fill="#fff" />
<rect x="91.81" y="392.56" width="3.30" height="5.40" fill="#fff" />
<rect x="97.63" y="377.26" width="3.30" height="5.20" fill="#fff" />
<rect x="97.63" y="392.56" width="3.30" height="5.40" fill="#fff" />
<rect x="103.44" y="377.26" width="3.30" height="5.20" fill="#fff" />
<rect x="103.44" y="392.56" width="3.30" height="5.40" fill="#fff" />
<rect x="109.26" y="377.26" width="3.30" height="5.20" fill="#fff" />
<rect x="109.26" y="392.56" width="3.30" height="5.40" fill="#fff" />
<rect x="115.07" y="377.26" width="3.30" height="5.20" fill="#fff" />
<rect x="115.07" y="392.56" width="3.30" height="5.40" fill="#fff" />
<rect x="120.89" y="377.26" width="3.30" height="5.20" fill="#fff" />
<rect x="120.89" y="392.56" width="3.30" height="5.40" fill="#fff" />
<rect x="47.90" y="384.86" width="32.30" height="5.20" fill="#fff" />
<rect x="85.90" y="384.86" width="33.20" height="5.20" fill="#fff" />
<rect x="126.30" y="385.46" width="1.00" height="4.00" fill="#fff" />
<rect x="125.30" y="386.46" width="1.00" height="2.00" fill="#fff" />
<rect x="135.00" y="376.48" width="84.00" height="24.70" fill="#000" />
<rect x="137.00" y="378.28" width="3.30" height="5.20" fill="#fff" />
<rect x="137.00" y="393.58" width="3.30" height="5.40" fill="#fff" />
<rect x="142.81" y="378.28" width="3.30" height="5.20" fill="#fff" />
<rect x="142.81" y="393.58" width="3.30" height="5.40" fill="#fff" />
<rect x="148.63" y="378.28" width="3.30" height="5.20" fill="#fff" />
<rect x="148.63" y="393.58" width="3.30" height="5.40" fill="#fff" />
<rect x="154.44" y="378.28" width="3.30" height="5.20" fill="#fff" />
<rect x="154.44" y="393.58" width="3.30" height="5.40" fill="#fff" />
<rect x="160.26" y="378.28" width="3.30" height="5.20" fill="#fff" />
<rect x="160.26" y="393.58" width="3.30" height="5.40" fill="#fff" />
<rect x="166.07" y="378.28" width="3.30" height="5.20" fill="#fff" />
<rect x="166.07" y="393.58" width="3.30" height="5.40" fill="#fff" />
<rect x="171.89" y="378.28" width="3.30" height="5.20" fill="#fff" />
<rect x="171.89" y="393.58" width="3.30" height="5.40" fill="#fff" />
<rect x="177.70" y="378.28" width="3.30" height="5.20" fill="#fff" />
<rect x="177.70" y="393.58" width="3.30" height="5.40" fill="#fff" />
<rect x="183.51" y="378.28" width="3.30" height="5.20" fill="#fff" />
<rect x="183.51" y="393.58" width="3.30" height="5.40" fill="#fff" />
<rect x="189.33" y="378.28" width="3.30" height="5.20" fill="#fff" />
<rect x="189.33" y="393.58" width="3.30" height="5.40" fill="#fff" />
<rect x="195.14" y="378.28" width="3.30" height="5.20" fill="#fff" />
<rect x="195.14" y="393.58" width="3.30" height="5.40" fill="#fff" />
<rect x="200.96" y="378.28" width="3.30" height="5.20" fill="#fff" />
<rect x="200.96" y="393.58" width="3.30" height="5.40" fill="#fff" />
<rect x="206.77" y="378.28" width="3.30" height="5.20" fill="#fff" />
<rect x="206.77" y="393.58" width="3.30" height="5.40" fill="#fff" />
<rect x="212.59" y="378.28" width="3.30" height="5.20" fill="#fff" />
<rect x="212.59" y="393.58" width="3.30" height="5.40" fill="#fff" />
<rect x="139.60" y="385.88" width="32.30" height="5.20" fill="#fff" />
<rect x="177.60" y="385.88" width="33.20" height="5.20" fill="#fff" />
<rect x="218.00" y="386.48" width="1.00" height="4.00" fill="#fff" />
<rect x="217.00" y="387.48" width="1.00" height="2.00" fill="#fff" />
<rect x="43.30" y="401.54" width="84.00" height="24.70" fill="#000" />
<rect x="45.30" y="403.34" width="3.30" height="5.20" fill="#fff" />
<rect x="45.30" y="418.64" width="3.30" height="5.40" fill="#fff" />
<rect x="51.11" y="403.34" width="3.30" height="5.20" fill="#fff" />
<rect x="51.11" y="418.64" width="3.30" height="5.40" fill="#fff" />
<rect x="56.93" y="403.34" width="3.30" height="5.20" fill="#fff" />
<rect x="56.93" y="418.64" width="3.30" height="5.40" fill="#fff" />
<rect x="62.74" y="403.34" width="3.30" height="5.20" fill="#fff" />
<rect x="62.74" y="418.64" width="3.30" height="5.40" fill="#fff" />
<rect x="68.56" y="403.34" width="3.30" height="5.20" fill="#fff" />
<rect x="68.56" y="418.64" width="3.30" height="5.40" fill="#fff" />
<rect x="74.37" y="403.34" width="3.30" height="5.20" fill="#fff" />
<rect x="74.37" y="418.64" width="3.30" height="5.40" fill="#fff" />
<rect x="80.19" y="403.34" width="3.30" height="5.20" fill="#fff" />
<rect x="80.19" y="418.64" width="3.30" height="5.40" fill="#fff" />
<rect x="86.00" y="403.34" width="3.30" height="5.20" fill="#fff" />
<rect x="86.00" y="418.64" width="3.30" height="5.40" fill="#fff" />
<rect x="91.81" y="403.34" width="3.30" height="5.20" fill="#fff" />
<rect x="91.81" y="418.64" width="3.30" height="5.40" fill="#fff" />
<rect x="97.63" y="403.34" width="3.30" height="5.20" fill="#fff" />
<rect x="97.63" y="418.64" width="3.30" height="5.40" fill="#fff" />
<rect x="103.44" y="403.34" width="3.30" height="5.20" fill="#fff" />
<rect x="103.44" y="418.64" width="3.30" height="5.40" fill="#fff" />
<rect x="109.26" y="403.34" width="3.30" height="5.20" fill="#fff" />
<rect x="109.26" y="418.64" width="3.30" height="5.40" fill="#fff" />
<rect x="115.07" y="403.34" width="3.30" height="5.20" fill="#fff" />
<rect x="115.07" y="418.64" width="3.30" height="5.40" fill="#fff" />
<rect x="120.89" y="403.34" width="3.30" height="5.20" fill="#fff" />
<rect x="120.89" y="418.64" width="3.30" height="5.40" fill="#fff" />
<rect x="47.90" y="410.94" width="32.30" height="5.20" fill="#fff" />
<rect x="85.90" y="410.94" width="33.20" height="5.20" fill="#fff" />
<rect x="126.30" y="411.54" width="1.00" height="4.00" fill="#fff" />
<rect x="125.30" y="412.54" width="1.00" height="2.00" fill="#fff" />
<rect x="135.00" y="402.62" width="84.00" height="24.70" fill="#000" />
<rect x="137.00" y="404.42" width="3.30" height="5.20" fill="#fff" />
<rect x="137.00" y="419.72" width="3.30" height="5.40" fill="#fff" />
<rect x="142.81" y="404.42" width="3.30" height="5.20" fill="#fff" />
<rect x="142.81" y="419.72" width="3.30" height="5.40" fill="#fff" />
<rect x="148.63" y="404.42" width="3.30" height="5.20" fill="#fff" />
<rect x="148.63" y="419.72" width="3.30" height="5.40" fill="#fff" />
<rect x="154.44" y="404.42" width="3.30" height="5.20" fill="#fff" />
<rect x="154.44" y="419.72" width="3.30" height="5.40" fill="#fff" />
<rect x="160.26" y="404.42" width="3.30" height="5.20" fill="#fff" />
<rect x="160.26" y="419.72" width="3.30" height="5.40" fill="#fff" />
<rect x="166.07" y="404.42" width="3.30" height="5.20" fill="#fff" />
<rect x="166.07" y="419.72" width="3.30" height="5.40" fill="#fff" />
<rect x="171.89" y="404.42" width="3.30" height="5.20" fill="#fff" />
<rect x="171.89" y="419.72" width="3.30" height="5.40" fill="#fff" />
<rect x="177.70" y="404.42" width="3.30" height="5.20" fill="#fff" />
<rect x="177.70" y="419.72" width="3.30" height="5.40" fill="#fff" />
<rect x="183.51" y="404.42" width="3.30" height="5.20" fill="#fff" />
<rect x="183.51" y="419.72" width="3.30" height="5.40" fill="#fff" />
<rect x="189.33" y="404.42" width="3.30" height="5.20" fill="#fff" />
<rect x="189.33" y="419.72" width="3.30" height="5.40" fill="#fff" />
<rect x="195.14" y="404.42" width="3.30" height="5.20" fill="#fff" />
<rect x="195.14" y="419.72" width="3.30" height="5.40" fill="#fff" />
<rect x="200.96" y="404.42" width="3.30" height="5.20" fill="#fff" />
<rect x="200.96" y="419.72" width="3.30" height="5.40" fill="#fff" />
<rect x="206.77" y="404.42" width="3.30" height="5.20" fill="#fff" />
<rect x="206.77" y="419.72" width="3.30" height="5.40" fill="#fff" />
<rect x="212.59" y="404.42" width="3.30" height="5.20" fill="#fff" />
<rect x="212.59" y="419.72" width="3.30" height="5.40" fill="#fff" />
<rect x="139.60" y="412.02" width="32.30" height="5.20" fill="#fff" />
<rect x="177.60" y="412.02" width="33.20" height="5.20" fill="#fff" />
<rect x="218.00" y="412.62" width="1.00" height="4.00" fill="#fff" />
<rect x="217.00" y="413.62" width="1.00" height="2.00" fill="#fff" />
<rect x="43.30" y="427.62" width="84.00" height="24.70" fill="#000" />
<rect x="45.30" y="429.42" width="3.30" height="5.20" fill="#fff" />
<rect x="45.30" y="444.72" width="3.30" height="5.40" fill="#fff" />
<rect x="51.11" y="429.42" width="3.30" height="5.20" fill="#fff" />
<rect x="51.11" y="444.72" width="3.30" height="5.40" fill="#fff" />
<rect x="56.93" y="429.42" width="3.30" height="5.20" fill="#fff" />
<rect x="56.93" y="444.72" width="3.30" height="5.40" fill="#fff" />
<rect x="62.74" y="429.42" width="3.30" height="5.20" fill="#fff" />
<rect x="62.74" y="444.72" width="3.30" height="5.40" fill="#fff" />
<rect x="68.56" y="429.42" width="3.30" height="5.20" fill="#fff" />
<rect x="68.56" y="444.72" width="3.30" height="5.40" fill="#fff" />
<rect x="74.37" y="429.42" width="3.30" height="5.20" fill="#fff" />
<rect x="74.37" y="444.72" width="3.30" height="5.40" fill="#fff" />
<rect x="80.19" y="429.42" width="3.30" height="5.20" fill="#fff" />
<rect x="80.19" y="444.72" width="3.30" height="5.40" fill="#fff" />
<rect x="86.00" y="429.42" width="3.30" height="5.20" fill="#fff" />
<rect x="86.00" y="444.72" width="3.30" height="5.40" fill="#fff" />
<rect x="91.81" y="429.42" width="3.30" height="5.20" fill="#fff" />
<rect x="91.81" y="444.72" width="3.30" height="5.40" fill="#fff" />
<rect x="97.63" y="429.42" width="3.30" height="5.20" fill="#fff" />
<rect x="97.63" y="444.72" width="3.30" height="5.40" fill="#fff" />
<rect x="103.44" y="429.42" width="3.30" height="5.20" fill="#fff" />
<rect x="103.44" y="444.72" width="3.30" height="5.40" fill="#fff" />
<rect x="109.26" y="429.42" width="3.30" height="5.20" fill="#fff" />
<rect x="109.26" y="444.72" width="3.30" height="5.40" fill="#fff" />
<rect x="115.07" y="429.42" width="3.30" height="5.20" fill="#fff" />
<rect x="115.07" y="444.72" width="3.30" height="5.40" fill="#fff" />
<rect x="120.89" y="429.42" width="3.30" height="5.20" fill="#fff" />
<rect x="120.89" y="444.72" width="3.30" height="5.40" fill="#fff" />
<rect x="47.90" y="437.02" width="32.30" height="5.20" fill="#fff" />
<rect x="85.90" y="437.02" width="33.20" height="5.20" fill="#fff" />
<rect x="126.30" y="437.62" width="1.00" height="4.00" fill="#fff" />
<rect x="125.30" y="438.62" width="1.00" height="2.00" fill="#fff" />
<rect x="135.00" y="428.76" width="84.00" height="24.70" fill="#000" />
<rect x="137.00" y="430.56" width="3.30" height="5.20" fill="#fff" />
<rect x="137.00" y="445.86" width="3.30" height="5.40" fill="#fff" />
<rect x="142.81" y="430.56" width="3.30" height="5.20" fill="#fff" />
<rect x="142.81" y="445.86" width="3.30" height="5.40" fill="#fff" />
<rect x="148.63" y="430.56" width="3.30" height="5.20" fill="#fff" />
<rect x="148.63" y="445.86" width="3.30" height="5.40" fill="#fff" />
<rect x="154.44" y="430.56" width="3.30" height="5.20" fill="#fff" />
<rect x="154.44" y="445.86" width="3.30" height="5.40" fill="#fff" />
<rect x="160.26" y="430.56" width="3.30" height="5.20" fill="#fff" />
<rect x="160.26" y="445.86" width="3.30" height="5.40" fill="#fff" />
<rect x="166.07" y="430.56" width="3.30" height="5.20" fill="#fff" />
<rect x="166.07" y="445.86" width="3.30" height="5.40" fill="#fff" />
<rect x="171.89" y="430.56" width="3.30" height="5.20" fill="#fff" />
<rect x="171.89" y="445.86" width="3.30" height="5.40" fill="#fff" />
<rect x="177.70" y="430.56" width="3.30" height="5.20" fill="#fff" />
<rect x="177.70" y="445.86" width="3.30" height="5.40" fill="#fff" />
<rect x="183.51" y="430.56" width="3.30" height="5.20" fill="#fff" />
<rect x="183.51" y="445.86" width="3.30" height="5.40" fill="#fff" />
<rect x="189.33" y="430.56" width="3.30" height="5.20" fill="#fff" />
<rect x="189.33" y="445.86" width="3.30" height="5.40" fill="#fff" />
<rect x="195.14" y="430.56" width="3.30" height="5.20" fill="#fff" />
<rect x="195.14" y="445.86" width="3.30" height="5.40" fill="#fff" />
<rect x="200.96" y="430.56" width="3.30" height="5.20" fill="#fff" />
<rect x="200.96" y="445.86" width="3.30" height="5.40" fill="#fff" />
<rect x="206.77" y="430.56" width="3.30" height="5.20" fill="#fff" />
<rect x="206.77" y="445.86" width="3.30" height="5.40" fill="#fff" />
<rect x="212.59" y="430.56" width="3.30" height="5.20" fill="#fff" />
<rect x="212.59" y="445.86" width="3.30" height="5.40" fill="#fff" />
<rect x="139.60" y="438.16" width="32.30" height="5.20" fill="#fff" />
<rect x="177.60" y="438.16" width="33.20" height="5.20" fill="#fff" />
<rect x="218.00" y="438.76" width="1.00" height="4.00" fill="#fff" />
<rect x="217.00" y="439.76" width="1.00" height="2.00" fill="#fff" />
<rect x="43.30" y="453.70" width="84.00" height="24.70" fill="#000" />
<rect x="45.30" y="455.50" width="3.30" height="5.20" fill="#fff" />
<rect x="45.30" y="470.80" width="3.30" height="5.40" fill="#fff" />
<rect x="51.11" y="455.50" width="3.30" height="5.20" fill="#fff" />
<rect x="51.11" y="470.80" width="3.30" height="5.40" fill="#fff" />
<rect x="56.93" y="455.50" width="3.30" height="5.20" fill="#fff" />
<rect x="56.93" y="470.80" width="3.30" height="5.40" fill="#fff" />
<rect x="62.74" y="455.50" width="3.30" height="5.20" fill="#fff" />
<rect x="62.74" y="470.80" width="3.30" height="5.40" fill="#fff" />
<rect x="68.56" y="455.50" width="3.30" height="5.20" fill="#fff" />
<rect x="68.56" y="470.80" width="3.30" height="5.40" fill="#fff" />
<rect x="74.37" y="455.50" width="3.30" height="5.20" fill="#fff" />
<rect x="74.37" y="470.80" width="3.30" height="5.40" fill="#fff" />
<rect x="80.19" y="455.50" width="3.30" height="5.20" fill="#fff" />
<rect x="80.19" y="470.80" width="3.30" height="5.40" fill="#fff" />
<rect x="86.00" y="455.50" width="3.30" height="5.20" fill="#fff" />
<rect x="86.00" y="470.80" width="3.30" height="5.40" fill="#fff" />
<rect x="91.81" y="455.50" width="3.30" height="5.20" fill="#fff" />
<rect x="91.81" y="470.80" width="3.30" height="5.40" fill="#fff" />
<rect x="97.63" y="455.50" width="3.30" height="5.20" fill="#fff" />
<rect x="97.63" y="470.80" width="3.30" height="5.40" fill="#fff" />
<rect x="103.44" y="455.50" width="3.30" height="5.20" fill="#fff" />
<rect x="103.44" y="470.80" width="3.30" height="5.40" fill="#fff" />
<rect x="109.26" y="455.50" width="3.30" height="5.20" fill="#fff" />
<rect x="109.26" y="470.80" width="3.30" height="5.40" fill="#fff" />
<rect x="115.07" y="455.50" width="3.30" height="5.20" fill="#fff" />
<rect x="115.07" y="470.80" width="3.30" height="5.40" fill="#fff" />
<rect x="120.89" y="455.50" width="3.30" height="5.20" fill="#fff" />
<rect x="120.89" y="470.80" width="3.30" height="5.40" fill="#fff" />
<rect x="47.90" y="463.10" width="32.30" height="5.20" fill="#fff" />
<rect x="85.90" y="463.10" width="33.20" height="5.20" fill="#fff" />
<rect x="126.30" y="463.70" width="1.00" height="4.00" fill="#fff" />
<rect x="125.30" y="464.70" width="1.00" height="2.00" fill="#fff" />
<rect x="135.00" y="454.90" width="84.00" height="24.70" fill="#000" />
<rect x="137.00" y="456.70" width="3.30" height="5.20" fill="#fff" />
<rect x="137.00" y="472.00" width="3.30" height="5.40" fill="#fff" />
<rect x="142.81" y="456.70" width="3.30" height="5.20" fill="#fff" />
<rect x="142.81" y="472.00" width="3.30" height="5.40" fill="#fff" />
<rect x="148.63" y="456.70" width="3.30" height="5.20" fill="#fff" />
<rect x="148.63" y="472.00" width="3.30" height="5.40" fill="#fff" />
<rect x="154.44" y="456.70" width="3.30" height="5.20" fill="#fff" />
<rect x="154.44" y="472.00" width="3.30" height="5.40" fill="#fff" />
<rect x="160.26" y="456.70" width="3.30" height="5.20" fill="#fff" />
<rect x="160.26" y="472.00" width="3.30" height="5.40" fill="#fff" />
<rect x="166.07" y="456.70" width="3.30" height="5.20" fill="#fff" />
<rect x="166.07" y="472.00" width="3.30" height="5.40" fill="#fff" />
<rect x="171.89" y="456.70" width="3.30" height="5.20" fill="#fff" />
<rect x="171.89" y="472.00" width="3.30" height="5.40" fill="#fff" />
<rect x="177.70" y="456.70" width="3.30" height="5.20" fill="#fff" />
<rect x="177.70" y="472.00" width="3.30" height="5.40" fill="#fff" />
<rect x="183.51" y="456.70" width="3.30" height="5.20" fill="#fff" />
<rect x="183.51" y="472.00" width="3.30" height="5.40" fill="#fff" />
<rect x="189.33" y="456.70" width="3.30" height="5.20" fill="#fff" />
<rect x="189.33" y="472.00" width="3.30" height="5.40" fill="#fff" />
<rect x="195.14" y="456.70" width="3.30" height="5.20" fill="#fff" />
<rect x="195.14" y="472.00" width="3.30" height="5.40" fill="#fff" />
<rect x="200.96" y="456.70" width="3.30" height="5.20" fill="#fff" />
<rect x="200.96" y="472.00" width="3.30" height="5.40" fill="#fff" />
<rect x="206.77" y="456.70" width="3.30" height="5.20" fill="#fff" />
<rect x="206.77" y="472.00" width="3.30" height="5.40" fill="#fff" />
<rect x="212.59" y="456.70" width="3.30" height="5.20" fill="#fff" />
<rect x="212.59" y="472.00" width="3.30" height="5.40" fill="#fff" />
<rect x="139.60" y="464.30" width="32.30" height="5.20" fill="#fff" />
<rect x="177.60" y="464.30" width="33.20" height="5.20" fill="#fff" />
<rect x="218.00" y="464.90" width="1.00" height="4.00" fill="#fff" />
<rect x="217.00" y="465.90" width="1.00" height="2.00" fill="#fff" />
<rect x="43.30" y="479.78" width="84.00" height="24.70" fill="#000" />
<rect x="45.30" y="481.58" width="3.30" height="5.20" fill="#fff" />
<rect x="45.30" y="496.88" width="3.30" height="5.40" fill="#fff" />
<rect x="51.11" y="481.58" width="3.30" height="5.20" fill="#fff" />
<rect x="51.11" y="496.88" width="3.30" height="5.40" fill="#fff" />
<rect x="56.93" y="481.58" width="3.30" height="5.20" fill="#fff" />
<rect x="56.93" y="496.88" width="3.30" height="5.40" fill="#fff" />
<rect x="62.74" y="481.58" width="3.30" height="5.20" fill="#fff" />
<rect x="62.74" y="496.88" width="3.30" height="5.40" fill="#fff" />
<rect x="68.56" y="481.58" width="3.30" height="5.20" fill="#fff" />
<rect x="68.56" y="496.88" width="3.30" height="5.40" fill="#fff" />
<rect x="74.37" y="481.58" width="3.30" height="5.20" fill="#fff" />
<rect x="74.37" y="496.88" width="3.30" height="5.40" fill="#fff" />
<rect x="80.19" y="481.58" width="3.30" height="5.20" fill="#fff" />
<rect x="80.19" y="496.88" width="3.30" height="5.40" fill="#fff" />
<rect x="86.00" y="481.58" width="3.30" height="5.20" fill="#fff" />
<rect x="86.00" y="496.88" width="3.30" height="5.40" fill="#fff" />
<rect x="91.81" y="481.58" width="3.30" height="5.20" fill="#fff" />
<rect x="91.81" y="496.88" width="3.30" height="5.40" fill="#fff" />
<rect x="97.63" y="481.58" width="3.30" height="5.20" fill="#fff" />
<rect x="97.63" y="496.88" width="3.30" height="5.40" fill="#fff" />
<rect x="103.44" y="481.58" width="3.30" height="5.20" fill="#fff" />
<rect x="103.44" y="496.88" width="3.30" height="5.40" fill="#fff" />
<rect x="109.26" y="481.58" width="3.30" height="5.20" fill="#fff" />
<rect x="109.26" y="496.88" width="3.30" height="5.40" fill="#fff" />
<rect x="115.07" y="481.58" width="3.30" height="5.20" fill="#fff" />
<rect x="115.07" y="496.88" width="3.30" height="5.40" fill="#fff" />
<rect x="120.89" y="481.58" width="3.30" height="5.20" fill="#fff" />
<rect x="120.89" y="496.88" width="3.30" height="5.40" fill="#fff" />
<rect x="47.90" y="489.18" width="32.30" height="5.20" fill="#fff" />
<rect x="85.90" y="489.18" width="33.20" height="5.20" fill="#fff" />
<rect x="126.30" y="489.78" width="1.00" height="4.00" fill="#fff" />
<rect x="125.30" y="490.78" width="1.00" height="2.00" fill="#fff" />
<rect x="135.00" y="481.04" width="84.00" height="24.70" fill="#000" />
<rect x="137.00" y="482.84" width="3.30" height="5.20" fill="#fff" />
<rect x="137.00" y="498.14" width="3.30" height="5.40" fill="#fff" />
<rect x="142.81" y="482.84" width="3.30" height="5.20" fill="#fff" />
<rect x="142.81" y="498.14" width="3.30" height="5.40" fill="#fff" />
<rect x="148.63" y="482.84" width="3.30" height="5.20" fill="#fff" />
<rect x="148.63" y="498.14" width="3.30" height="5.40" fill="#fff" />
<rect x="154.44" y="482.84" width="3.30" height="5.20" fill="#fff" />
<rect x="154.44" y="498.14" width="3.30" height="5.40" fill="#fff" />
<rect x="160.26" y="482.84" width="3.30" height="5.20" fill="#fff" />
<rect x="160.26" y="498.14" width="3.30" height="5.40" fill="#fff" />
<rect x="166.07" y="482.84" width="3.30" height="5.20" fill="#fff" />
<rect x="166.07" y="498.14" width="3.30" height="5.40" fill="#fff" />
<rect x="171.89" y="482.84" width="3.30" height="5.20" fill="#fff" />
<rect x="171.89" y="498.14" width="3.30" height="5.40" fill="#fff" />
<rect x="177.70" y="482.84" width="3.30" height="5.20" fill="#fff" />
<rect x="177.70" y="498.14" width="3.30" height="5.40" fill="#fff" />
<rect x="183.51" y="482.84" width="3.30" height="5.20" fill="#fff" />
<rect x="183.51" y="498.14" width="3.30" height="5.40" fill="#fff" />
<rect x="189.33" y="482.84" width="3.30" height="5.20" fill="#fff" />
<rect x="189.33" y="498.14" width="3.30" height="5.40" fill="#fff" />
<rect x="195.14" y="482.84" width="3.30" height="5.20" fill="#fff" />
<rect x="195.14" y="498.14" width="3.30" height="5.40" fill="#fff" />
<rect x="200.96" y="482.84" width="3.30" height="5.20" fill="#fff" />
<rect x="200.96" y="498.14" width="3.30" height="5.40" fill="#fff" />
<rect x="206.77" y="482.84" width="3.30" height="5.20" fill="#fff" />
<rect x="206.77" y="498.14" width="3.30" height="5.40" fill="#fff" />
<rect x="212.59" y="482.84" width="3.30" height="5.20" fill="#fff" />
<rect x="212.59" y="498.14" width="3.30" height="5.40" fill="#fff" />
<rect x="139.60" y="490.44" width="32.30" height="5.20" fill="#fff" />
<rect x="177.60" y="490.44" width="33.20" height="5.20" fill="#fff" />
<rect x="218.00" y="491.04" width="1.00" height="4.00" fill="#fff" />
<rect x="217.00" y="492.04" width="1.00" height="2.00" fill="#fff" />
<rect x="43.30" y="505.86" width="84.00" height="24.70" fill="#000" />
<rect x="45.30" y="507.66" width="3.30" height="5.20" fill="#fff" />
<rect x="45.30" y="522.96" width="3.30" height="5.40" fill="#fff" />
<rect x="51.11" y="507.66" width="3.30" height="5.20" fill="#fff" />
<rect x="51.11" y="522.96" width="3.30" height="5.40" fill="#fff" />
<rect x="56.93" y="507.66" width="3.30" height="5.20" fill="#fff" />
<rect x="56.93" y="522.96" width="3.30" height="5.40" fill="#fff" />
<rect x="62.74" y="507.66" width="3.30" height="5.20" fill="#fff" />
<rect x="62.74" y="522.96" width="3.30" height="5.40" fill="#fff" />
<rect x="68.56" y="507.66" width="3.30" height="5.20" fill="#fff" />
<rect x="68.56" y="522.96" width="3.30" height="5.40" fill="#fff" />
<rect x="74.37" y="507.66" width="3.30" height="5.20" fill="#fff" />
<rect x="74.37" y="522.96" width="3.30" height="5.40" fill="#fff" />
<rect x="80.19" y="507.66" width="3.30" height="5.20" fill="#fff" />
<rect x="80.19" y="522.96" width="3.30" height="5.40" fill="#fff" />
<rect x="86.00" y="507.66" width="3.30" height="5.20" fill="#fff" />
<rect x="86.00" y="522.96" width="3.30" height="5.40" fill="#fff" />
<rect x="91.81" y="507.66" width="3.30" height="5.20" fill="#fff" />
<rect x="91.81" y="522.96" width="3.30" height="5.40" fill="#fff" />
<rect x="97.63" y="507.66" width="3.30" height="5.20" fill="#fff" />
<rect x="97.63" y="522.96" width="3.30" height="5.40" fill="#fff" />
<rect x="103.44" y="507.66" width="3.30" height="5.20" fill="#fff" />
<rect x="103.44" y="522.96" width="3.30" height="5.40" fill="#fff" />
<rect x="109.26" y="507.66" width="3.30" height="5.20" fill="#fff" />
<rect x="109.26" y="522.96" width="3.30" height="5.40" fill="#fff" />
<rect x="115.07" y="507.66" width="3.30" height="5.20" fill="#fff" />
<rect x="115.07" y="522.96" width="3.30" height="5.40" fill="#fff" />
<rect x="120.89" y="507.66" width="3.30" height="5.20" fill="#fff" />
<rect x="120.89" y="522.96" width="3.30" height="5.40" fill="#fff" />
<rect x="47.90" y="515.26" width="32.30" height="5.20" fill="#fff" />
<rect x="85.90" y="515.26" width="33.20" height="5.20" fill="#fff" />
<rect x="126.30" y="515.86" width="1.00" height="4.00" fill="#fff" />
<rect x="125.30" y="516.86" width="1.00" height="2.00" fill="#fff" />
<rect x="135.00" y="507.18" width="84.00" height="24.70" fill="#000" />
<rect x="137.00" y="508.98" width="3.30" height="5.20" fill="#fff" />
<rect x="137.00" y="524.28" width="3.30" height="5.40" fill="#fff" />
<rect x="142.81" y="508.98" width="3.30" height="5.20" fill="#fff" />
<rect x="142.81" y="524.28" width="3.30" height="5.40" fill="#fff" />
<rect x="148.63" y="508.98" width="3.30" height="5.20" fill="#fff" />
<rect x="148.63" y="524.28" width="3.30" height="5.40" fill="#fff" />
<rect x="154.44" y="508.98" width="3.30" height="5.20" fill="#fff" />
<rect x="154.44" y="524.28" width="3.30" height="5.40" fill="#fff" />
<rect x="160.26" y="508.98" width="3.30" height="5.20" fill="#fff" />
<rect x="160.26" y="524.28" width="3.30" height="5.40" fill="#fff" />
<rect x="166.07" y="508.98" width="3.30" height="5.20" fill="#fff" />
<rect x="166.07" y="524.28" width="3.30" height="5.40" fill="#fff" />
<rect x="171.89" y="508.98" width="3.30" height="5.20" fill="#fff" />
<rect x="171.89" y="524.28" width="3.30" height="5.40" fill="#fff" />
<rect x="177.70" y="508.98" width="3.30" height="5.20" fill="#fff" />
<rect x="177.70" y="524.28" width="3.30" height="5.40" fill="#fff" />
<rect x="183.51" y="508.98" width="3.30" height="5.20" fill="#fff" />
<rect x="183.51" y="524.28" width="3.30" height="5.40" fill="#fff" />
<rect x="189.33" y="508.98" width="3.30" height="5.20" fill="#fff" />
<rect x="189.33" y="524.28" width="3.30" height="5.40" fill="#fff" />
<rect x="195.14" y="508.98" width="3.30" height="5.20" fill="#fff" />
<rect x="195.14" y="524.28" width="3.30" height="5.40" fill="#fff" />
<rect x="200.96" y="508.98" width="3.30" height="5.20" fill="#fff" />
<rect x="200.96" y="524.28" width="3.30" height="5.40" fill="#fff" />
<rect x="206.77" y="508.98" width="3.30" height="5.20" fill="#fff" />
<rect x="206.77" y="524.28" width="3.30" height="5.40" fill="#fff" />
<rect x="212.59" y="508.98" width="3.30" height="5.20" fill="#fff" />
<rect x="212.59" y="524.28" width="3.30" height="5.40" fill="#fff" />
<rect x="139.60" y="516.58" width="32.30" height="5.20" fill="#fff" />
<rect x="177.60" y="516.58" width="33.20" height="5.20" fill="#fff" />
<rect x="218.00" y="517.18" width="1.00" height="4.00" fill="#fff" />
<rect x="217.00" y="518.18" width="1.00" height="2.00" fill="#fff" />
<rect x="230.00" y="269.00" width="84.00" height="23.80" fill="#000" />
<rect x="232.00" y="270.80" width="3.30" height="5.20" fill="#fff" />
<rect x="232.00" y="285.20" width="3.30" height="5.40" fill="#fff" />
<rect x="237.81" y="270.80" width="3.30" height="5.20" fill="#fff" />
<rect x="237.81" y="285.20" width="3.30" height="5.40" fill="#fff" />
<rect x="243.63" y="270.80" width="3.30" height="5.20" fill="#fff" />
<rect x="243.63" y="285.20" width="3.30" height="5.40" fill="#fff" />
<rect x="249.44" y="270.80" width="3.30" height="5.20" fill="#fff" />
<rect x="249.44" y="285.20" width="3.30" height="5.40" fill="#fff" />
<rect x="255.26" y="270.80" width="3.30" height="5.20" fill="#fff" />
<rect x="255.26" y="285.20" width="3.30" height="5.40" fill="#fff" />
<rect x="261.07" y="270.80" width="3.30" height="5.20" fill="#fff" />
<rect x="261.07" y="285.20" width="3.30" height="5.40" fill="#fff" />
<rect x="266.89" y="270.80" width="3.30" height="5.20" fill="#fff" />
<rect x="266.89" y="285.20" width="3.30" height="5.40" fill="#fff" />
<rect x="272.70" y="270.80" width="3.30" height="5.20" fill="#fff" />
<rect x="272.70" y="285.20" width="3.30" height="5.40" fill="#fff" />
<rect x="278.51" y="270.80" width="3.30" height="5.20" fill="#fff" />
<rect x="278.51" y="285.20" width="3.30" height="5.40" fill="#fff" />
<rect x="284.33" y="270.80" width="3.30" height="5.20" fill="#fff" />
<rect x="284.33" y="285.20" width="3.30" height="5.40" fill="#fff" />
<rect x="290.14" y="270.80" width="3.30" height="5.20" fill="#fff" />
<rect x="290.14" y="285.20" width="3.30" height="5.40" fill="#fff" />
<rect x="295.96" y="270.80" width="3.30" height="5.20" fill="#fff" />
<rect x="295.96" y="285.20" width="3.30" height="5.40" fill="#fff" />
<rect x="301.77" y="270.80" width="3.30" height="5.20" fill="#fff" />
<rect x="301.77" y="285.20" width="3.30" height="5.40" fill="#fff" />
<rect x="307.59" y="270.80" width="3.30" height="5.20" fill="#fff" />
<rect x="307.59" y="285.20" width="3.30" height="5.40" fill="#fff" />
<rect x="234.60" y="278.40" width="32.30" height="5.20" fill="#fff" />
<rect x="272.60" y="278.40" width="33.20" height="5.20" fill="#fff" />
<rect x="313.00" y="279.00" width="1.00" height="4.00" fill="#fff" />
<rect x="312.00" y="280.00" width="1.00" height="2.00" fill="#fff" />
<rect x="230.00" y="295.20" width="84.00" height="24.60" fill="#000" />
<rect x="232.00" y="297.00" width="3.30" height="5.20" fill="#fff" />
<rect x="232.00" y="312.20" width="3.30" height="5.40" fill="#fff" />
<rect x="237.81" y="297.00" width="3.30" height="5.20" fill="#fff" />
<rect x="237.81" y="312.20" width="3.30" height="5.40" fill="#fff" />
<rect x="243.63" y="297.00" width="3.30" height="5.20" fill="#fff" />
<rect x="243.63" y="312.20" width="3.30" height="5.40" fill="#fff" />
<rect x="249.44" y="297.00" width="3.30" height="5.20" fill="#fff" />
<rect x="249.44" y="312.20" width="3.30" height="5.40" fill="#fff" />
<rect x="255.26" y="297.00" width="3.30" height="5.20" fill="#fff" />
<rect x="255.26" y="312.20" width="3.30" height="5.40" fill="#fff" />
<rect x="261.07" y="297.00" width="3.30" height="5.20" fill="#fff" />
<rect x="261.07" y="312.20" width="3.30" height="5.40" fill="#fff" />
<rect x="266.89" y="297.00" width="3.30" height="5.20" fill="#fff" />
<rect x="266.89" y="312.20" width="3.30" height="5.40" fill="#fff" />
<rect x="272.70" y="297.00" width="3.30" height="5.20" fill="#fff" />
<rect x="272.70" y="312.20" width="3.30" height="5.40" fill="#fff" />
<rect x="278.51" y="297.00" width="3.30" height="5.20" fill="#fff" />
<rect x="278.51" y="312.20" width="3.30" height="5.40" fill="#fff" />
<rect x="284.33" y="297.00" width="3.30" height="5.20" fill="#fff" />
<rect x="284.33" y="312.20" width="3.30" height="5.40" fill="#fff" />
<rect x="290.14" y="297.00" width="3.30" height="5.20" fill="#fff" />
<rect x="290.14" y="312.20" width="3.30" height="5.40" fill="#fff" />
<rect x="295.96" y="297.00" width="3.30" height="5.20" fill="#fff" />
<rect x="295.96" y="312.20" width="3.30" height="5.40" fill="#fff" />
<rect x="301.77" y="297.00" width="3.30" height="5.20" fill="#fff" />
<rect x="301.77" y="312.20" width="3.30" height="5.40" fill="#fff" />
<rect x="307.59" y="297.00" width="3.30" height="5.20" fill="#fff" />
<rect x="307.59" y="312.20" width="3.30" height="5.40" fill="#fff" />
<rect x="234.60" y="304.60" width="32.30" height="5.20" fill="#fff" />
<rect x="272.60" y="304.60" width="33.20" height="5.20" fill="#fff" />
<rect x="313.00" y="305.20" width="1.00" height="4.00" fill="#fff" />
<rect x="312.00" y="306.20" width="1.00" height="2.00" fill="#fff" />
<rect x="99.00" y="279.00" width="48.00" height="25.00" fill="#000" />
<rect x="101.20" y="281.00" width="2.80" height="4.80" fill="#fff" />
<rect x="142.20" y="281.00" width="2.80" height="4.80" fill="#fff" />
<rect x="101.20" y="288.80" width="2.80" height="4.80" fill="#fff" />
<rect x="142.20" y="288.80" width="2.80" height="4.80" fill="#fff" />
<rect x="101.20" y="297.00" width="2.80" height="4.80" fill="#fff" />
<rect x="142.20" y="297.00" width="2.80" height="4.80" fill="#fff" />
<path d="M108,281.5 H139 M108,301.5 H139" fill="none" stroke="#fff" stroke-width="1" stroke-dasharray="2.6,1.8" shape-rendering="crispEdges"/>
<rect x="106.00" y="282.00" width="1.00" height="1.00" fill="#fff" />
<rect x="139.00" y="282.00" width="1.00" height="1.00" fill="#fff" />
<rect x="106.00" y="300.00" width="1.00" height="1.00" fill="#fff" />
<rect x="139.00" y="300.00" width="1.00" height="1.00" fill="#fff" />
<rect x="107.9" y="283.6" width="30" height="15.6" rx="3" fill="#fff"/>
<text transform="translate(110.62,296.00) scale(0.8,1)" font-size="14" letter-spacing="1.77" text-anchor="start" fill="#000">U52</text>
<rect x="249.6" y="270.80" width="43.6" height="20.20" rx="2" fill="#000" stroke="none"/>
<path d="M252,271.5 H291 M252,289.5 H291" fill="none" stroke="#fff" stroke-width="1" stroke-dasharray="2.6,1.8" shape-rendering="crispEdges"/>
<rect x="250.00" y="272.00" width="1.00" height="1.00" fill="#fff" />
<rect x="292.00" y="272.00" width="1.00" height="1.00" fill="#fff" />
<rect x="250.00" y="288.00" width="1.00" height="1.00" fill="#fff" />
<rect x="292.00" y="288.00" width="1.00" height="1.00" fill="#fff" />
<rect x="252.4" y="273.40" width="38" height="15.00" rx="3" fill="#fff"/>
<text transform="translate(254.02,285.90) scale(0.8,1)" font-size="14" letter-spacing="1.30" text-anchor="start" fill="#000">TAG1</text>
<rect x="249.6" y="297.00" width="43.6" height="21.20" rx="2" fill="#000" stroke="none"/>
<path d="M252,298.5 H291 M252,317.5 H291" fill="none" stroke="#fff" stroke-width="1" stroke-dasharray="2.6,1.8" shape-rendering="crispEdges"/>
<rect x="250.00" y="299.00" width="1.00" height="1.00" fill="#fff" />
<rect x="292.00" y="299.00" width="1.00" height="1.00" fill="#fff" />
<rect x="250.00" y="316.00" width="1.00" height="1.00" fill="#fff" />
<rect x="292.00" y="316.00" width="1.00" height="1.00" fill="#fff" />
<rect x="252.4" y="299.60" width="38" height="16.00" rx="3" fill="#fff"/>
<text transform="translate(254.02,311.90) scale(0.8,1)" font-size="14" letter-spacing="1.30" text-anchor="start" fill="#000">TAG0</text>
<rect x="213.00" y="37.00" width="33.00" height="14.00" fill="#000" />
<rect x="214.70" y="37.10" width="29.40" height="13.60" fill="#fff" />
<text transform="translate(217.22,48.80) scale(0.8,1)" font-size="14" letter-spacing="2.09" text-anchor="start" fill="#000">SL2</text>
<rect x="213.00" y="81.00" width="33.00" height="14.00" fill="#000" />
<rect x="214.70" y="81.20" width="29.40" height="13.60" fill="#fff" />
<text transform="translate(217.22,92.80) scale(0.8,1)" font-size="14" letter-spacing="2.09" text-anchor="start" fill="#000">SL1</text>
<text transform="translate(553.99,69.80) scale(0.85,1)" font-size="12" letter-spacing="1.36" text-anchor="start" fill="#000">MH2693</text>
<rect x="363.00" y="438.30" width="276.50" height="15.40" fill="#000" />
<rect x="364.00" y="439.30" width="274.50" height="13.40" fill="#fff" />
<rect x="364.00" y="441.50" width="7.60" height="1.00" fill="#000" />
<rect x="364.00" y="447.30" width="7.60" height="1.00" fill="#000" />
<rect x="371.20" y="438.30" width="3.80" height="15.40" fill="#000" />
<rect x="375.00" y="440.30" width="8.60" height="1.00" fill="#000" />
<rect x="382.60" y="440.30" width="1.00" height="6.40" fill="#000" />
<rect x="377.60" y="445.90" width="6.00" height="1.00" fill="#000" />
<rect x="377.60" y="445.90" width="1.00" height="4.60" fill="#000" />
<rect x="375.00" y="449.70" width="3.40" height="1.00" fill="#000" />
<rect x="386.00" y="440.10" width="231.00" height="11.60" fill="#000" />
<rect x="388.00" y="442.00" width="1.00" height="4.00" fill="#fff" />
<rect x="390.00" y="442.00" width="1.00" height="4.00" fill="#fff" />
<rect x="393.00" y="442.00" width="1.00" height="4.00" fill="#fff" />
<rect x="395.00" y="442.00" width="1.00" height="4.00" fill="#fff" />
<rect x="397.00" y="442.00" width="1.00" height="4.00" fill="#fff" />
<rect x="399.00" y="442.00" width="1.00" height="4.00" fill="#fff" />
<rect x="401.00" y="442.00" width="1.00" height="4.00" fill="#fff" />
<rect x="403.00" y="442.00" width="1.00" height="4.00" fill="#fff" />
<rect x="405.00" y="442.00" width="1.00" height="4.00" fill="#fff" />
<rect x="407.00" y="442.00" width="1.00" height="4.00" fill="#fff" />
<rect x="409.00" y="442.00" width="1.00" height="4.00" fill="#fff" />
<rect x="411.00" y="442.00" width="1.00" height="4.00" fill="#fff" />
<rect x="413.00" y="442.00" width="1.00" height="4.00" fill="#fff" />
<rect x="415.00" y="442.00" width="1.00" height="4.00" fill="#fff" />
<rect x="417.00" y="442.00" width="1.00" height="4.00" fill="#fff" />
<rect x="420.00" y="442.00" width="1.00" height="4.00" fill="#fff" />
<rect x="422.00" y="442.00" width="1.00" height="4.00" fill="#fff" />
<rect x="424.00" y="442.00" width="1.00" height="4.00" fill="#fff" />
<rect x="426.00" y="442.00" width="1.00" height="4.00" fill="#fff" />
<rect x="428.00" y="442.00" width="1.00" height="4.00" fill="#fff" />
<rect x="430.00" y="442.00" width="1.00" height="4.00" fill="#fff" />
<rect x="432.00" y="442.00" width="1.00" height="4.00" fill="#fff" />
<rect x="434.00" y="442.00" width="1.00" height="4.00" fill="#fff" />
<rect x="436.00" y="442.00" width="1.00" height="4.00" fill="#fff" />
<rect x="438.00" y="442.00" width="1.00" height="4.00" fill="#fff" />
<rect x="440.00" y="442.00" width="1.00" height="4.00" fill="#fff" />
<rect x="442.00" y="442.00" width="1.00" height="4.00" fill="#fff" />
<rect x="444.00" y="442.00" width="1.00" height="4.00" fill="#fff" />
<rect x="446.00" y="442.00" width="1.00" height="4.00" fill="#fff" />
<rect x="449.00" y="442.00" width="1.00" height="4.00" fill="#fff" />
<rect x="451.00" y="442.00" width="1.00" height="4.00" fill="#fff" />
<rect x="453.00" y="442.00" width="1.00" height="4.00" fill="#fff" />
<rect x="455.00" y="442.00" width="1.00" height="4.00" fill="#fff" />
<rect x="457.00" y="442.00" width="1.00" height="4.00" fill="#fff" />
<rect x="459.00" y="442.00" width="1.00" height="4.00" fill="#fff" />
<rect x="461.00" y="442.00" width="1.00" height="4.00" fill="#fff" />
<rect x="463.00" y="442.00" width="1.00" height="4.00" fill="#fff" />
<rect x="465.00" y="442.00" width="1.00" height="4.00" fill="#fff" />
<rect x="467.00" y="442.00" width="1.00" height="4.00" fill="#fff" />
<rect x="469.00" y="442.00" width="1.00" height="4.00" fill="#fff" />
<rect x="471.00" y="442.00" width="1.00" height="4.00" fill="#fff" />
<rect x="473.00" y="442.00" width="1.00" height="4.00" fill="#fff" />
<rect x="476.00" y="442.00" width="1.00" height="4.00" fill="#fff" />
<rect x="478.00" y="442.00" width="1.00" height="4.00" fill="#fff" />
<rect x="480.00" y="442.00" width="1.00" height="4.00" fill="#fff" />
<rect x="482.00" y="442.00" width="1.00" height="4.00" fill="#fff" />
<rect x="484.00" y="442.00" width="1.00" height="4.00" fill="#fff" />
<rect x="486.00" y="442.00" width="1.00" height="4.00" fill="#fff" />
<rect x="488.00" y="442.00" width="1.00" height="4.00" fill="#fff" />
<rect x="490.00" y="442.00" width="1.00" height="4.00" fill="#fff" />
<rect x="492.00" y="442.00" width="1.00" height="4.00" fill="#fff" />
<rect x="494.00" y="442.00" width="1.00" height="4.00" fill="#fff" />
<rect x="496.00" y="442.00" width="1.00" height="4.00" fill="#fff" />
<rect x="498.00" y="442.00" width="1.00" height="4.00" fill="#fff" />
<rect x="500.00" y="442.00" width="1.00" height="4.00" fill="#fff" />
<rect x="503.00" y="442.00" width="1.00" height="4.00" fill="#fff" />
<rect x="505.00" y="442.00" width="1.00" height="4.00" fill="#fff" />
<rect x="507.00" y="442.00" width="1.00" height="4.00" fill="#fff" />
<rect x="509.00" y="442.00" width="1.00" height="4.00" fill="#fff" />
<rect x="511.00" y="442.00" width="1.00" height="4.00" fill="#fff" />
<rect x="513.00" y="442.00" width="1.00" height="4.00" fill="#fff" />
<rect x="515.00" y="442.00" width="1.00" height="4.00" fill="#fff" />
<rect x="517.00" y="442.00" width="1.00" height="4.00" fill="#fff" />
<rect x="519.00" y="442.00" width="1.00" height="4.00" fill="#fff" />
<rect x="521.00" y="442.00" width="1.00" height="4.00" fill="#fff" />
<rect x="523.00" y="442.00" width="1.00" height="4.00" fill="#fff" />
<rect x="525.00" y="442.00" width="1.00" height="4.00" fill="#fff" />
<rect x="527.00" y="442.00" width="1.00" height="4.00" fill="#fff" />
<rect x="530.00" y="442.00" width="1.00" height="4.00" fill="#fff" />
<rect x="532.00" y="442.00" width="1.00" height="4.00" fill="#fff" />
<rect x="534.00" y="442.00" width="1.00" height="4.00" fill="#fff" />
<rect x="536.00" y="442.00" width="1.00" height="4.00" fill="#fff" />
<rect x="538.00" y="442.00" width="1.00" height="4.00" fill="#fff" />
<rect x="540.00" y="442.00" width="1.00" height="4.00" fill="#fff" />
<rect x="542.00" y="442.00" width="1.00" height="4.00" fill="#fff" />
<rect x="544.00" y="442.00" width="1.00" height="4.00" fill="#fff" />
<rect x="546.00" y="442.00" width="1.00" height="4.00" fill="#fff" />
<rect x="548.00" y="442.00" width="1.00" height="4.00" fill="#fff" />
<rect x="550.00" y="442.00" width="1.00" height="4.00" fill="#fff" />
<rect x="552.00" y="442.00" width="1.00" height="4.00" fill="#fff" />
<rect x="554.00" y="442.00" width="1.00" height="4.00" fill="#fff" />
<rect x="556.00" y="442.00" width="1.00" height="4.00" fill="#fff" />
<rect x="559.00" y="442.00" width="1.00" height="4.00" fill="#fff" />
<rect x="561.00" y="442.00" width="1.00" height="4.00" fill="#fff" />
<rect x="563.00" y="442.00" width="1.00" height="4.00" fill="#fff" />
<rect x="565.00" y="442.00" width="1.00" height="4.00" fill="#fff" />
<rect x="567.00" y="442.00" width="1.00" height="4.00" fill="#fff" />
<rect x="569.00" y="442.00" width="1.00" height="4.00" fill="#fff" />
<rect x="571.00" y="442.00" width="1.00" height="4.00" fill="#fff" />
<rect x="573.00" y="442.00" width="1.00" height="4.00" fill="#fff" />
<rect x="575.00" y="442.00" width="1.00" height="4.00" fill="#fff" />
<rect x="577.00" y="442.00" width="1.00" height="4.00" fill="#fff" />
<rect x="579.00" y="442.00" width="1.00" height="4.00" fill="#fff" />
<rect x="581.00" y="442.00" width="1.00" height="4.00" fill="#fff" />
<rect x="583.00" y="442.00" width="1.00" height="4.00" fill="#fff" />
<rect x="586.00" y="442.00" width="1.00" height="4.00" fill="#fff" />
<rect x="588.00" y="442.00" width="1.00" height="4.00" fill="#fff" />
<rect x="590.00" y="442.00" width="1.00" height="4.00" fill="#fff" />
<rect x="592.00" y="442.00" width="1.00" height="4.00" fill="#fff" />
<rect x="594.00" y="442.00" width="1.00" height="4.00" fill="#fff" />
<rect x="596.00" y="442.00" width="1.00" height="4.00" fill="#fff" />
<rect x="598.00" y="442.00" width="1.00" height="4.00" fill="#fff" />
<rect x="600.00" y="442.00" width="1.00" height="4.00" fill="#fff" />
<rect x="602.00" y="442.00" width="1.00" height="4.00" fill="#fff" />
<rect x="604.00" y="442.00" width="1.00" height="4.00" fill="#fff" />
<rect x="606.00" y="442.00" width="1.00" height="4.00" fill="#fff" />
<rect x="608.00" y="442.00" width="1.00" height="4.00" fill="#fff" />
<rect x="610.00" y="442.00" width="1.00" height="4.00" fill="#fff" />
<rect x="612.00" y="442.00" width="1.00" height="4.00" fill="#fff" />
<rect x="619.00" y="440.70" width="10.00" height="1.00" fill="#000" />
<rect x="619.00" y="440.70" width="1.00" height="10.60" fill="#000" />
<rect x="628.00" y="440.70" width="1.00" height="10.60" fill="#000" />
<rect x="621.00" y="445.70" width="5.00" height="1.00" fill="#000" />
<rect x="621.00" y="445.70" width="1.00" height="5.00" fill="#000" />
<rect x="625.40" y="443.10" width="1.00" height="3.40" fill="#000" />
<rect x="625.40" y="443.10" width="3.00" height="1.00" fill="#000" />
<rect x="619.00" y="450.50" width="3.00" height="1.00" fill="#000" />
<rect x="629.80" y="438.30" width="2.60" height="15.40" fill="#000" />
<rect x="632.00" y="446.70" width="7.00" height="1.00" fill="#000" />
<rect x="363.00" y="455.00" width="276.50" height="15.40" fill="#000" />
<rect x="364.00" y="456.00" width="274.50" height="13.40" fill="#fff" />
<rect x="364.00" y="458.20" width="7.60" height="1.00" fill="#000" />
<rect x="364.00" y="464.00" width="7.60" height="1.00" fill="#000" />
<rect x="371.20" y="455.00" width="3.80" height="15.40" fill="#000" />
<rect x="375.00" y="457.00" width="8.60" height="1.00" fill="#000" />
<rect x="382.60" y="457.00" width="1.00" height="6.40" fill="#000" />
<rect x="377.60" y="462.60" width="6.00" height="1.00" fill="#000" />
<rect x="377.60" y="462.60" width="1.00" height="4.60" fill="#000" />
<rect x="375.00" y="466.40" width="3.40" height="1.00" fill="#000" />
<rect x="386.00" y="456.80" width="231.00" height="11.60" fill="#000" />
<rect x="388.00" y="459.00" width="1.00" height="4.00" fill="#fff" />
<rect x="390.00" y="459.00" width="1.00" height="4.00" fill="#fff" />
<rect x="393.00" y="459.00" width="1.00" height="4.00" fill="#fff" />
<rect x="395.00" y="459.00" width="1.00" height="4.00" fill="#fff" />
<rect x="397.00" y="459.00" width="1.00" height="4.00" fill="#fff" />
<rect x="399.00" y="459.00" width="1.00" height="4.00" fill="#fff" />
<rect x="401.00" y="459.00" width="1.00" height="4.00" fill="#fff" />
<rect x="403.00" y="459.00" width="1.00" height="4.00" fill="#fff" />
<rect x="405.00" y="459.00" width="1.00" height="4.00" fill="#fff" />
<rect x="407.00" y="459.00" width="1.00" height="4.00" fill="#fff" />
<rect x="409.00" y="459.00" width="1.00" height="4.00" fill="#fff" />
<rect x="411.00" y="459.00" width="1.00" height="4.00" fill="#fff" />
<rect x="413.00" y="459.00" width="1.00" height="4.00" fill="#fff" />
<rect x="415.00" y="459.00" width="1.00" height="4.00" fill="#fff" />
<rect x="417.00" y="459.00" width="1.00" height="4.00" fill="#fff" />
<rect x="420.00" y="459.00" width="1.00" height="4.00" fill="#fff" />
<rect x="422.00" y="459.00" width="1.00" height="4.00" fill="#fff" />
<rect x="424.00" y="459.00" width="1.00" height="4.00" fill="#fff" />
<rect x="426.00" y="459.00" width="1.00" height="4.00" fill="#fff" />
<rect x="428.00" y="459.00" width="1.00" height="4.00" fill="#fff" />
<rect x="430.00" y="459.00" width="1.00" height="4.00" fill="#fff" />
<rect x="432.00" y="459.00" width="1.00" height="4.00" fill="#fff" />
<rect x="434.00" y="459.00" width="1.00" height="4.00" fill="#fff" />
<rect x="436.00" y="459.00" width="1.00" height="4.00" fill="#fff" />
<rect x="438.00" y="459.00" width="1.00" height="4.00" fill="#fff" />
<rect x="440.00" y="459.00" width="1.00" height="4.00" fill="#fff" />
<rect x="442.00" y="459.00" width="1.00" height="4.00" fill="#fff" />
<rect x="444.00" y="459.00" width="1.00" height="4.00" fill="#fff" />
<rect x="446.00" y="459.00" width="1.00" height="4.00" fill="#fff" />
<rect x="449.00" y="459.00" width="1.00" height="4.00" fill="#fff" />
<rect x="451.00" y="459.00" width="1.00" height="4.00" fill="#fff" />
<rect x="453.00" y="459.00" width="1.00" height="4.00" fill="#fff" />
<rect x="455.00" y="459.00" width="1.00" height="4.00" fill="#fff" />
<rect x="457.00" y="459.00" width="1.00" height="4.00" fill="#fff" />
<rect x="459.00" y="459.00" width="1.00" height="4.00" fill="#fff" />
<rect x="461.00" y="459.00" width="1.00" height="4.00" fill="#fff" />
<rect x="463.00" y="459.00" width="1.00" height="4.00" fill="#fff" />
<rect x="465.00" y="459.00" width="1.00" height="4.00" fill="#fff" />
<rect x="467.00" y="459.00" width="1.00" height="4.00" fill="#fff" />
<rect x="469.00" y="459.00" width="1.00" height="4.00" fill="#fff" />
<rect x="471.00" y="459.00" width="1.00" height="4.00" fill="#fff" />
<rect x="473.00" y="459.00" width="1.00" height="4.00" fill="#fff" />
<rect x="476.00" y="459.00" width="1.00" height="4.00" fill="#fff" />
<rect x="478.00" y="459.00" width="1.00" height="4.00" fill="#fff" />
<rect x="480.00" y="459.00" width="1.00" height="4.00" fill="#fff" />
<rect x="482.00" y="459.00" width="1.00" height="4.00" fill="#fff" />
<rect x="484.00" y="459.00" width="1.00" height="4.00" fill="#fff" />
<rect x="486.00" y="459.00" width="1.00" height="4.00" fill="#fff" />
<rect x="488.00" y="459.00" width="1.00" height="4.00" fill="#fff" />
<rect x="490.00" y="459.00" width="1.00" height="4.00" fill="#fff" />
<rect x="492.00" y="459.00" width="1.00" height="4.00" fill="#fff" />
<rect x="494.00" y="459.00" width="1.00" height="4.00" fill="#fff" />
<rect x="496.00" y="459.00" width="1.00" height="4.00" fill="#fff" />
<rect x="498.00" y="459.00" width="1.00" height="4.00" fill="#fff" />
<rect x="500.00" y="459.00" width="1.00" height="4.00" fill="#fff" />
<rect x="503.00" y="459.00" width="1.00" height="4.00" fill="#fff" />
<rect x="505.00" y="459.00" width="1.00" height="4.00" fill="#fff" />
<rect x="507.00" y="459.00" width="1.00" height="4.00" fill="#fff" />
<rect x="509.00" y="459.00" width="1.00" height="4.00" fill="#fff" />
<rect x="511.00" y="459.00" width="1.00" height="4.00" fill="#fff" />
<rect x="513.00" y="459.00" width="1.00" height="4.00" fill="#fff" />
<rect x="515.00" y="459.00" width="1.00" height="4.00" fill="#fff" />
<rect x="517.00" y="459.00" width="1.00" height="4.00" fill="#fff" />
<rect x="519.00" y="459.00" width="1.00" height="4.00" fill="#fff" />
<rect x="521.00" y="459.00" width="1.00" height="4.00" fill="#fff" />
<rect x="523.00" y="459.00" width="1.00" height="4.00" fill="#fff" />
<rect x="525.00" y="459.00" width="1.00" height="4.00" fill="#fff" />
<rect x="527.00" y="459.00" width="1.00" height="4.00" fill="#fff" />
<rect x="530.00" y="459.00" width="1.00" height="4.00" fill="#fff" />
<rect x="532.00" y="459.00" width="1.00" height="4.00" fill="#fff" />
<rect x="534.00" y="459.00" width="1.00" height="4.00" fill="#fff" />
<rect x="536.00" y="459.00" width="1.00" height="4.00" fill="#fff" />
<rect x="538.00" y="459.00" width="1.00" height="4.00" fill="#fff" />
<rect x="540.00" y="459.00" width="1.00" height="4.00" fill="#fff" />
<rect x="542.00" y="459.00" width="1.00" height="4.00" fill="#fff" />
<rect x="544.00" y="459.00" width="1.00" height="4.00" fill="#fff" />
<rect x="546.00" y="459.00" width="1.00" height="4.00" fill="#fff" />
<rect x="548.00" y="459.00" width="1.00" height="4.00" fill="#fff" />
<rect x="550.00" y="459.00" width="1.00" height="4.00" fill="#fff" />
<rect x="552.00" y="459.00" width="1.00" height="4.00" fill="#fff" />
<rect x="554.00" y="459.00" width="1.00" height="4.00" fill="#fff" />
<rect x="556.00" y="459.00" width="1.00" height="4.00" fill="#fff" />
<rect x="559.00" y="459.00" width="1.00" height="4.00" fill="#fff" />
<rect x="561.00" y="459.00" width="1.00" height="4.00" fill="#fff" />
<rect x="563.00" y="459.00" width="1.00" height="4.00" fill="#fff" />
<rect x="565.00" y="459.00" width="1.00" height="4.00" fill="#fff" />
<rect x="567.00" y="459.00" width="1.00" height="4.00" fill="#fff" />
<rect x="569.00" y="459.00" width="1.00" height="4.00" fill="#fff" />
<rect x="571.00" y="459.00" width="1.00" height="4.00" fill="#fff" />
<rect x="573.00" y="459.00" width="1.00" height="4.00" fill="#fff" />
<rect x="575.00" y="459.00" width="1.00" height="4.00" fill="#fff" />
<rect x="577.00" y="459.00" width="1.00" height="4.00" fill="#fff" />
<rect x="579.00" y="459.00" width="1.00" height="4.00" fill="#fff" />
<rect x="581.00" y="459.00" width="1.00" height="4.00" fill="#fff" />
<rect x="583.00" y="459.00" width="1.00" height="4.00" fill="#fff" />
<rect x="586.00" y="459.00" width="1.00" height="4.00" fill="#fff" />
<rect x="588.00" y="459.00" width="1.00" height="4.00" fill="#fff" />
<rect x="590.00" y="459.00" width="1.00" height="4.00" fill="#fff" />
<rect x="592.00" y="459.00" width="1.00" height="4.00" fill="#fff" />
<rect x="594.00" y="459.00" width="1.00" height="4.00" fill="#fff" />
<rect x="596.00" y="459.00" width="1.00" height="4.00" fill="#fff" />
<rect x="598.00" y="459.00" width="1.00" height="4.00" fill="#fff" />
<rect x="600.00" y="459.00" width="1.00" height="4.00" fill="#fff" />
<rect x="602.00" y="459.00" width="1.00" height="4.00" fill="#fff" />
<rect x="604.00" y="459.00" width="1.00" height="4.00" fill="#fff" />
<rect x="606.00" y="459.00" width="1.00" height="4.00" fill="#fff" />
<rect x="608.00" y="459.00" width="1.00" height="4.00" fill="#fff" />
<rect x="610.00" y="459.00" width="1.00" height="4.00" fill="#fff" />
<rect x="612.00" y="459.00" width="1.00" height="4.00" fill="#fff" />
<rect x="619.00" y="457.40" width="10.00" height="1.00" fill="#000" />
<rect x="619.00" y="457.40" width="1.00" height="10.60" fill="#000" />
<rect x="628.00" y="457.40" width="1.00" height="10.60" fill="#000" />
<rect x="621.00" y="462.40" width="5.00" height="1.00" fill="#000" />
<rect x="621.00" y="462.40" width="1.00" height="5.00" fill="#000" />
<rect x="625.40" y="459.80" width="1.00" height="3.40" fill="#000" />
<rect x="625.40" y="459.80" width="3.00" height="1.00" fill="#000" />
<rect x="619.00" y="467.20" width="3.00" height="1.00" fill="#000" />
<rect x="629.80" y="455.00" width="2.60" height="15.40" fill="#000" />
<rect x="632.00" y="463.40" width="7.00" height="1.00" fill="#000" />
<rect x="363.00" y="472.00" width="276.50" height="15.40" fill="#000" />
<rect x="364.00" y="473.00" width="274.50" height="13.40" fill="#fff" />
<rect x="364.00" y="475.20" width="7.60" height="1.00" fill="#000" />
<rect x="364.00" y="481.00" width="7.60" height="1.00" fill="#000" />
<rect x="371.20" y="472.00" width="3.80" height="15.40" fill="#000" />
<rect x="375.00" y="474.00" width="8.60" height="1.00" fill="#000" />
<rect x="382.60" y="474.00" width="1.00" height="6.40" fill="#000" />
<rect x="377.60" y="479.60" width="6.00" height="1.00" fill="#000" />
<rect x="377.60" y="479.60" width="1.00" height="4.60" fill="#000" />
<rect x="375.00" y="483.40" width="3.40" height="1.00" fill="#000" />
<rect x="386.00" y="473.80" width="231.00" height="11.60" fill="#000" />
<rect x="388.00" y="476.00" width="1.00" height="4.00" fill="#fff" />
<rect x="390.00" y="476.00" width="1.00" height="4.00" fill="#fff" />
<rect x="393.00" y="476.00" width="1.00" height="4.00" fill="#fff" />
<rect x="395.00" y="476.00" width="1.00" height="4.00" fill="#fff" />
<rect x="397.00" y="476.00" width="1.00" height="4.00" fill="#fff" />
<rect x="399.00" y="476.00" width="1.00" height="4.00" fill="#fff" />
<rect x="401.00" y="476.00" width="1.00" height="4.00" fill="#fff" />
<rect x="403.00" y="476.00" width="1.00" height="4.00" fill="#fff" />
<rect x="405.00" y="476.00" width="1.00" height="4.00" fill="#fff" />
<rect x="407.00" y="476.00" width="1.00" height="4.00" fill="#fff" />
<rect x="409.00" y="476.00" width="1.00" height="4.00" fill="#fff" />
<rect x="411.00" y="476.00" width="1.00" height="4.00" fill="#fff" />
<rect x="413.00" y="476.00" width="1.00" height="4.00" fill="#fff" />
<rect x="415.00" y="476.00" width="1.00" height="4.00" fill="#fff" />
<rect x="417.00" y="476.00" width="1.00" height="4.00" fill="#fff" />
<rect x="420.00" y="476.00" width="1.00" height="4.00" fill="#fff" />
<rect x="422.00" y="476.00" width="1.00" height="4.00" fill="#fff" />
<rect x="424.00" y="476.00" width="1.00" height="4.00" fill="#fff" />
<rect x="426.00" y="476.00" width="1.00" height="4.00" fill="#fff" />
<rect x="428.00" y="476.00" width="1.00" height="4.00" fill="#fff" />
<rect x="430.00" y="476.00" width="1.00" height="4.00" fill="#fff" />
<rect x="432.00" y="476.00" width="1.00" height="4.00" fill="#fff" />
<rect x="434.00" y="476.00" width="1.00" height="4.00" fill="#fff" />
<rect x="436.00" y="476.00" width="1.00" height="4.00" fill="#fff" />
<rect x="438.00" y="476.00" width="1.00" height="4.00" fill="#fff" />
<rect x="440.00" y="476.00" width="1.00" height="4.00" fill="#fff" />
<rect x="442.00" y="476.00" width="1.00" height="4.00" fill="#fff" />
<rect x="444.00" y="476.00" width="1.00" height="4.00" fill="#fff" />
<rect x="446.00" y="476.00" width="1.00" height="4.00" fill="#fff" />
<rect x="449.00" y="476.00" width="1.00" height="4.00" fill="#fff" />
<rect x="451.00" y="476.00" width="1.00" height="4.00" fill="#fff" />
<rect x="453.00" y="476.00" width="1.00" height="4.00" fill="#fff" />
<rect x="455.00" y="476.00" width="1.00" height="4.00" fill="#fff" />
<rect x="457.00" y="476.00" width="1.00" height="4.00" fill="#fff" />
<rect x="459.00" y="476.00" width="1.00" height="4.00" fill="#fff" />
<rect x="461.00" y="476.00" width="1.00" height="4.00" fill="#fff" />
<rect x="463.00" y="476.00" width="1.00" height="4.00" fill="#fff" />
<rect x="465.00" y="476.00" width="1.00" height="4.00" fill="#fff" />
<rect x="467.00" y="476.00" width="1.00" height="4.00" fill="#fff" />
<rect x="469.00" y="476.00" width="1.00" height="4.00" fill="#fff" />
<rect x="471.00" y="476.00" width="1.00" height="4.00" fill="#fff" />
<rect x="473.00" y="476.00" width="1.00" height="4.00" fill="#fff" />
<rect x="476.00" y="476.00" width="1.00" height="4.00" fill="#fff" />
<rect x="478.00" y="476.00" width="1.00" height="4.00" fill="#fff" />
<rect x="480.00" y="476.00" width="1.00" height="4.00" fill="#fff" />
<rect x="482.00" y="476.00" width="1.00" height="4.00" fill="#fff" />
<rect x="484.00" y="476.00" width="1.00" height="4.00" fill="#fff" />
<rect x="486.00" y="476.00" width="1.00" height="4.00" fill="#fff" />
<rect x="488.00" y="476.00" width="1.00" height="4.00" fill="#fff" />
<rect x="490.00" y="476.00" width="1.00" height="4.00" fill="#fff" />
<rect x="492.00" y="476.00" width="1.00" height="4.00" fill="#fff" />
<rect x="494.00" y="476.00" width="1.00" height="4.00" fill="#fff" />
<rect x="496.00" y="476.00" width="1.00" height="4.00" fill="#fff" />
<rect x="498.00" y="476.00" width="1.00" height="4.00" fill="#fff" />
<rect x="500.00" y="476.00" width="1.00" height="4.00" fill="#fff" />
<rect x="503.00" y="476.00" width="1.00" height="4.00" fill="#fff" />
<rect x="505.00" y="476.00" width="1.00" height="4.00" fill="#fff" />
<rect x="507.00" y="476.00" width="1.00" height="4.00" fill="#fff" />
<rect x="509.00" y="476.00" width="1.00" height="4.00" fill="#fff" />
<rect x="511.00" y="476.00" width="1.00" height="4.00" fill="#fff" />
<rect x="513.00" y="476.00" width="1.00" height="4.00" fill="#fff" />
<rect x="515.00" y="476.00" width="1.00" height="4.00" fill="#fff" />
<rect x="517.00" y="476.00" width="1.00" height="4.00" fill="#fff" />
<rect x="519.00" y="476.00" width="1.00" height="4.00" fill="#fff" />
<rect x="521.00" y="476.00" width="1.00" height="4.00" fill="#fff" />
<rect x="523.00" y="476.00" width="1.00" height="4.00" fill="#fff" />
<rect x="525.00" y="476.00" width="1.00" height="4.00" fill="#fff" />
<rect x="527.00" y="476.00" width="1.00" height="4.00" fill="#fff" />
<rect x="530.00" y="476.00" width="1.00" height="4.00" fill="#fff" />
<rect x="532.00" y="476.00" width="1.00" height="4.00" fill="#fff" />
<rect x="534.00" y="476.00" width="1.00" height="4.00" fill="#fff" />
<rect x="536.00" y="476.00" width="1.00" height="4.00" fill="#fff" />
<rect x="538.00" y="476.00" width="1.00" height="4.00" fill="#fff" />
<rect x="540.00" y="476.00" width="1.00" height="4.00" fill="#fff" />
<rect x="542.00" y="476.00" width="1.00" height="4.00" fill="#fff" />
<rect x="544.00" y="476.00" width="1.00" height="4.00" fill="#fff" />
<rect x="546.00" y="476.00" width="1.00" height="4.00" fill="#fff" />
<rect x="548.00" y="476.00" width="1.00" height="4.00" fill="#fff" />
<rect x="550.00" y="476.00" width="1.00" height="4.00" fill="#fff" />
<rect x="552.00" y="476.00" width="1.00" height="4.00" fill="#fff" />
<rect x="554.00" y="476.00" width="1.00" height="4.00" fill="#fff" />
<rect x="556.00" y="476.00" width="1.00" height="4.00" fill="#fff" />
<rect x="559.00" y="476.00" width="1.00" height="4.00" fill="#fff" />
<rect x="561.00" y="476.00" width="1.00" height="4.00" fill="#fff" />
<rect x="563.00" y="476.00" width="1.00" height="4.00" fill="#fff" />
<rect x="565.00" y="476.00" width="1.00" height="4.00" fill="#fff" />
<rect x="567.00" y="476.00" width="1.00" height="4.00" fill="#fff" />
<rect x="569.00" y="476.00" width="1.00" height="4.00" fill="#fff" />
<rect x="571.00" y="476.00" width="1.00" height="4.00" fill="#fff" />
<rect x="573.00" y="476.00" width="1.00" height="4.00" fill="#fff" />
<rect x="575.00" y="476.00" width="1.00" height="4.00" fill="#fff" />
<rect x="577.00" y="476.00" width="1.00" height="4.00" fill="#fff" />
<rect x="579.00" y="476.00" width="1.00" height="4.00" fill="#fff" />
<rect x="581.00" y="476.00" width="1.00" height="4.00" fill="#fff" />
<rect x="583.00" y="476.00" width="1.00" height="4.00" fill="#fff" />
<rect x="586.00" y="476.00" width="1.00" height="4.00" fill="#fff" />
<rect x="588.00" y="476.00" width="1.00" height="4.00" fill="#fff" />
<rect x="590.00" y="476.00" width="1.00" height="4.00" fill="#fff" />
<rect x="592.00" y="476.00" width="1.00" height="4.00" fill="#fff" />
<rect x="594.00" y="476.00" width="1.00" height="4.00" fill="#fff" />
<rect x="596.00" y="476.00" width="1.00" height="4.00" fill="#fff" />
<rect x="598.00" y="476.00" width="1.00" height="4.00" fill="#fff" />
<rect x="600.00" y="476.00" width="1.00" height="4.00" fill="#fff" />
<rect x="602.00" y="476.00" width="1.00" height="4.00" fill="#fff" />
<rect x="604.00" y="476.00" width="1.00" height="4.00" fill="#fff" />
<rect x="606.00" y="476.00" width="1.00" height="4.00" fill="#fff" />
<rect x="608.00" y="476.00" width="1.00" height="4.00" fill="#fff" />
<rect x="610.00" y="476.00" width="1.00" height="4.00" fill="#fff" />
<rect x="612.00" y="476.00" width="1.00" height="4.00" fill="#fff" />
<rect x="619.00" y="474.40" width="10.00" height="1.00" fill="#000" />
<rect x="619.00" y="474.40" width="1.00" height="10.60" fill="#000" />
<rect x="628.00" y="474.40" width="1.00" height="10.60" fill="#000" />
<rect x="621.00" y="479.40" width="5.00" height="1.00" fill="#000" />
<rect x="621.00" y="479.40" width="1.00" height="5.00" fill="#000" />
<rect x="625.40" y="476.80" width="1.00" height="3.40" fill="#000" />
<rect x="625.40" y="476.80" width="3.00" height="1.00" fill="#000" />
<rect x="619.00" y="484.20" width="3.00" height="1.00" fill="#000" />
<rect x="629.80" y="472.00" width="2.60" height="15.40" fill="#000" />
<rect x="632.00" y="480.40" width="7.00" height="1.00" fill="#000" />
<rect x="363.00" y="489.20" width="276.50" height="15.40" fill="#000" />
<rect x="364.00" y="490.20" width="274.50" height="13.40" fill="#fff" />
<rect x="364.00" y="492.40" width="7.60" height="1.00" fill="#000" />
<rect x="364.00" y="498.20" width="7.60" height="1.00" fill="#000" />
<rect x="371.20" y="489.20" width="3.80" height="15.40" fill="#000" />
<rect x="375.00" y="491.20" width="8.60" height="1.00" fill="#000" />
<rect x="382.60" y="491.20" width="1.00" height="6.40" fill="#000" />
<rect x="377.60" y="496.80" width="6.00" height="1.00" fill="#000" />
<rect x="377.60" y="496.80" width="1.00" height="4.60" fill="#000" />
<rect x="375.00" y="500.60" width="3.40" height="1.00" fill="#000" />
<rect x="386.00" y="491.00" width="231.00" height="11.60" fill="#000" />
<rect x="388.00" y="493.00" width="1.00" height="4.00" fill="#fff" />
<rect x="390.00" y="493.00" width="1.00" height="4.00" fill="#fff" />
<rect x="393.00" y="493.00" width="1.00" height="4.00" fill="#fff" />
<rect x="395.00" y="493.00" width="1.00" height="4.00" fill="#fff" />
<rect x="397.00" y="493.00" width="1.00" height="4.00" fill="#fff" />
<rect x="399.00" y="493.00" width="1.00" height="4.00" fill="#fff" />
<rect x="401.00" y="493.00" width="1.00" height="4.00" fill="#fff" />
<rect x="403.00" y="493.00" width="1.00" height="4.00" fill="#fff" />
<rect x="405.00" y="493.00" width="1.00" height="4.00" fill="#fff" />
<rect x="407.00" y="493.00" width="1.00" height="4.00" fill="#fff" />
<rect x="409.00" y="493.00" width="1.00" height="4.00" fill="#fff" />
<rect x="411.00" y="493.00" width="1.00" height="4.00" fill="#fff" />
<rect x="413.00" y="493.00" width="1.00" height="4.00" fill="#fff" />
<rect x="415.00" y="493.00" width="1.00" height="4.00" fill="#fff" />
<rect x="417.00" y="493.00" width="1.00" height="4.00" fill="#fff" />
<rect x="420.00" y="493.00" width="1.00" height="4.00" fill="#fff" />
<rect x="422.00" y="493.00" width="1.00" height="4.00" fill="#fff" />
<rect x="424.00" y="493.00" width="1.00" height="4.00" fill="#fff" />
<rect x="426.00" y="493.00" width="1.00" height="4.00" fill="#fff" />
<rect x="428.00" y="493.00" width="1.00" height="4.00" fill="#fff" />
<rect x="430.00" y="493.00" width="1.00" height="4.00" fill="#fff" />
<rect x="432.00" y="493.00" width="1.00" height="4.00" fill="#fff" />
<rect x="434.00" y="493.00" width="1.00" height="4.00" fill="#fff" />
<rect x="436.00" y="493.00" width="1.00" height="4.00" fill="#fff" />
<rect x="438.00" y="493.00" width="1.00" height="4.00" fill="#fff" />
<rect x="440.00" y="493.00" width="1.00" height="4.00" fill="#fff" />
<rect x="442.00" y="493.00" width="1.00" height="4.00" fill="#fff" />
<rect x="444.00" y="493.00" width="1.00" height="4.00" fill="#fff" />
<rect x="446.00" y="493.00" width="1.00" height="4.00" fill="#fff" />
<rect x="449.00" y="493.00" width="1.00" height="4.00" fill="#fff" />
<rect x="451.00" y="493.00" width="1.00" height="4.00" fill="#fff" />
<rect x="453.00" y="493.00" width="1.00" height="4.00" fill="#fff" />
<rect x="455.00" y="493.00" width="1.00" height="4.00" fill="#fff" />
<rect x="457.00" y="493.00" width="1.00" height="4.00" fill="#fff" />
<rect x="459.00" y="493.00" width="1.00" height="4.00" fill="#fff" />
<rect x="461.00" y="493.00" width="1.00" height="4.00" fill="#fff" />
<rect x="463.00" y="493.00" width="1.00" height="4.00" fill="#fff" />
<rect x="465.00" y="493.00" width="1.00" height="4.00" fill="#fff" />
<rect x="467.00" y="493.00" width="1.00" height="4.00" fill="#fff" />
<rect x="469.00" y="493.00" width="1.00" height="4.00" fill="#fff" />
<rect x="471.00" y="493.00" width="1.00" height="4.00" fill="#fff" />
<rect x="473.00" y="493.00" width="1.00" height="4.00" fill="#fff" />
<rect x="476.00" y="493.00" width="1.00" height="4.00" fill="#fff" />
<rect x="478.00" y="493.00" width="1.00" height="4.00" fill="#fff" />
<rect x="480.00" y="493.00" width="1.00" height="4.00" fill="#fff" />
<rect x="482.00" y="493.00" width="1.00" height="4.00" fill="#fff" />
<rect x="484.00" y="493.00" width="1.00" height="4.00" fill="#fff" />
<rect x="486.00" y="493.00" width="1.00" height="4.00" fill="#fff" />
<rect x="488.00" y="493.00" width="1.00" height="4.00" fill="#fff" />
<rect x="490.00" y="493.00" width="1.00" height="4.00" fill="#fff" />
<rect x="492.00" y="493.00" width="1.00" height="4.00" fill="#fff" />
<rect x="494.00" y="493.00" width="1.00" height="4.00" fill="#fff" />
<rect x="496.00" y="493.00" width="1.00" height="4.00" fill="#fff" />
<rect x="498.00" y="493.00" width="1.00" height="4.00" fill="#fff" />
<rect x="500.00" y="493.00" width="1.00" height="4.00" fill="#fff" />
<rect x="503.00" y="493.00" width="1.00" height="4.00" fill="#fff" />
<rect x="505.00" y="493.00" width="1.00" height="4.00" fill="#fff" />
<rect x="507.00" y="493.00" width="1.00" height="4.00" fill="#fff" />
<rect x="509.00" y="493.00" width="1.00" height="4.00" fill="#fff" />
<rect x="511.00" y="493.00" width="1.00" height="4.00" fill="#fff" />
<rect x="513.00" y="493.00" width="1.00" height="4.00" fill="#fff" />
<rect x="515.00" y="493.00" width="1.00" height="4.00" fill="#fff" />
<rect x="517.00" y="493.00" width="1.00" height="4.00" fill="#fff" />
<rect x="519.00" y="493.00" width="1.00" height="4.00" fill="#fff" />
<rect x="521.00" y="493.00" width="1.00" height="4.00" fill="#fff" />
<rect x="523.00" y="493.00" width="1.00" height="4.00" fill="#fff" />
<rect x="525.00" y="493.00" width="1.00" height="4.00" fill="#fff" />
<rect x="527.00" y="493.00" width="1.00" height="4.00" fill="#fff" />
<rect x="530.00" y="493.00" width="1.00" height="4.00" fill="#fff" />
<rect x="532.00" y="493.00" width="1.00" height="4.00" fill="#fff" />
<rect x="534.00" y="493.00" width="1.00" height="4.00" fill="#fff" />
<rect x="536.00" y="493.00" width="1.00" height="4.00" fill="#fff" />
<rect x="538.00" y="493.00" width="1.00" height="4.00" fill="#fff" />
<rect x="540.00" y="493.00" width="1.00" height="4.00" fill="#fff" />
<rect x="542.00" y="493.00" width="1.00" height="4.00" fill="#fff" />
<rect x="544.00" y="493.00" width="1.00" height="4.00" fill="#fff" />
<rect x="546.00" y="493.00" width="1.00" height="4.00" fill="#fff" />
<rect x="548.00" y="493.00" width="1.00" height="4.00" fill="#fff" />
<rect x="550.00" y="493.00" width="1.00" height="4.00" fill="#fff" />
<rect x="552.00" y="493.00" width="1.00" height="4.00" fill="#fff" />
<rect x="554.00" y="493.00" width="1.00" height="4.00" fill="#fff" />
<rect x="556.00" y="493.00" width="1.00" height="4.00" fill="#fff" />
<rect x="559.00" y="493.00" width="1.00" height="4.00" fill="#fff" />
<rect x="561.00" y="493.00" width="1.00" height="4.00" fill="#fff" />
<rect x="563.00" y="493.00" width="1.00" height="4.00" fill="#fff" />
<rect x="565.00" y="493.00" width="1.00" height="4.00" fill="#fff" />
<rect x="567.00" y="493.00" width="1.00" height="4.00" fill="#fff" />
<rect x="569.00" y="493.00" width="1.00" height="4.00" fill="#fff" />
<rect x="571.00" y="493.00" width="1.00" height="4.00" fill="#fff" />
<rect x="573.00" y="493.00" width="1.00" height="4.00" fill="#fff" />
<rect x="575.00" y="493.00" width="1.00" height="4.00" fill="#fff" />
<rect x="577.00" y="493.00" width="1.00" height="4.00" fill="#fff" />
<rect x="579.00" y="493.00" width="1.00" height="4.00" fill="#fff" />
<rect x="581.00" y="493.00" width="1.00" height="4.00" fill="#fff" />
<rect x="583.00" y="493.00" width="1.00" height="4.00" fill="#fff" />
<rect x="586.00" y="493.00" width="1.00" height="4.00" fill="#fff" />
<rect x="588.00" y="493.00" width="1.00" height="4.00" fill="#fff" />
<rect x="590.00" y="493.00" width="1.00" height="4.00" fill="#fff" />
<rect x="592.00" y="493.00" width="1.00" height="4.00" fill="#fff" />
<rect x="594.00" y="493.00" width="1.00" height="4.00" fill="#fff" />
<rect x="596.00" y="493.00" width="1.00" height="4.00" fill="#fff" />
<rect x="598.00" y="493.00" width="1.00" height="4.00" fill="#fff" />
<rect x="600.00" y="493.00" width="1.00" height="4.00" fill="#fff" />
<rect x="602.00" y="493.00" width="1.00" height="4.00" fill="#fff" />
<rect x="604.00" y="493.00" width="1.00" height="4.00" fill="#fff" />
<rect x="606.00" y="493.00" width="1.00" height="4.00" fill="#fff" />
<rect x="608.00" y="493.00" width="1.00" height="4.00" fill="#fff" />
<rect x="610.00" y="493.00" width="1.00" height="4.00" fill="#fff" />
<rect x="612.00" y="493.00" width="1.00" height="4.00" fill="#fff" />
<rect x="619.00" y="491.60" width="10.00" height="1.00" fill="#000" />
<rect x="619.00" y="491.60" width="1.00" height="10.60" fill="#000" />
<rect x="628.00" y="491.60" width="1.00" height="10.60" fill="#000" />
<rect x="621.00" y="496.60" width="5.00" height="1.00" fill="#000" />
<rect x="621.00" y="496.60" width="1.00" height="5.00" fill="#000" />
<rect x="625.40" y="494.00" width="1.00" height="3.40" fill="#000" />
<rect x="625.40" y="494.00" width="3.00" height="1.00" fill="#000" />
<rect x="619.00" y="501.40" width="3.00" height="1.00" fill="#000" />
<rect x="629.80" y="489.20" width="2.60" height="15.40" fill="#000" />
<rect x="632.00" y="497.60" width="7.00" height="1.00" fill="#000" />
<rect x="473.00" y="436.00" width="58.00" height="70.60" fill="#000" />
<rect x="474.00" y="437.60" width="55.00" height="14.60" fill="#fff" />
<text transform="translate(477.64,449.70) scale(0.8,1)" font-size="13.6" letter-spacing="2.21" text-anchor="start" fill="#000">BANK 0</text>
<rect x="474.00" y="454.90" width="55.00" height="14.80" fill="#fff" />
<text transform="translate(477.64,466.40) scale(0.8,1)" font-size="13.6" letter-spacing="2.21" text-anchor="start" fill="#000">BANK 1</text>
<rect x="474.00" y="472.90" width="55.00" height="14.10" fill="#fff" />
<text transform="translate(477.64,484.20) scale(0.8,1)" font-size="13.6" letter-spacing="2.21" text-anchor="start" fill="#000">BANK 0</text>
<rect x="474.00" y="490.00" width="55.00" height="14.20" fill="#fff" />
<text transform="translate(477.64,500.90) scale(0.8,1)" font-size="13.6" letter-spacing="2.21" text-anchor="start" fill="#000">BANK 1</text>
<rect x="650.20" y="410.30" width="23.80" height="111.50" fill="#000" />
<rect x="651.20" y="411.30" width="21.80" height="109.50" fill="#fff" />
<rect x="653.40" y="411.30" width="1.00" height="2.40" fill="#000" />
<rect x="659.00" y="411.30" width="1.00" height="2.40" fill="#000" />
<rect x="653.40" y="413.30" width="6.40" height="1.00" fill="#000" />
<rect x="653.40" y="518.60" width="1.00" height="2.40" fill="#000" />
<rect x="659.00" y="518.60" width="1.00" height="2.40" fill="#000" />
<rect x="653.40" y="518.00" width="6.40" height="1.00" fill="#000" />
<rect x="665.20" y="410.30" width="1.00" height="111.50" fill="#000" />
<rect x="653.30" y="416.20" width="6.40" height="6.40" fill="#000" />
<rect x="654.30" y="417.20" width="4.40" height="4.40" fill="#fff" />
<rect x="653.30" y="425.57" width="6.40" height="6.40" fill="#000" />
<rect x="654.30" y="426.57" width="4.40" height="4.40" fill="#fff" />
<rect x="653.30" y="434.94" width="6.40" height="6.40" fill="#000" />
<rect x="654.30" y="435.94" width="4.40" height="4.40" fill="#fff" />
<rect x="653.30" y="444.31" width="6.40" height="6.40" fill="#000" />
<rect x="654.30" y="445.31" width="4.40" height="4.40" fill="#fff" />
<rect x="653.30" y="453.68" width="6.40" height="6.40" fill="#000" />
<rect x="654.30" y="454.68" width="4.40" height="4.40" fill="#fff" />
<rect x="653.30" y="463.05" width="6.40" height="6.40" fill="#000" />
<rect x="654.30" y="464.05" width="4.40" height="4.40" fill="#fff" />
<rect x="653.30" y="472.42" width="6.40" height="6.40" fill="#000" />
<rect x="654.30" y="473.42" width="4.40" height="4.40" fill="#fff" />
<rect x="653.30" y="481.79" width="6.40" height="6.40" fill="#000" />
<rect x="654.30" y="482.79" width="4.40" height="4.40" fill="#fff" />
<rect x="653.30" y="491.16" width="6.40" height="6.40" fill="#000" />
<rect x="654.30" y="492.16" width="4.40" height="4.40" fill="#fff" />
<rect x="653.30" y="500.53" width="6.40" height="6.40" fill="#000" />
<rect x="654.30" y="501.53" width="4.40" height="4.40" fill="#fff" />
<rect x="653.30" y="509.90" width="6.40" height="6.40" fill="#000" />
<rect x="654.30" y="510.90" width="4.40" height="4.40" fill="#fff" />
<rect x="661.20" y="412.00" width="2.80" height="6.40" fill="#000" />
<rect x="666.00" y="413.60" width="3.20" height="4.40" fill="#000" />
<rect x="667.20" y="412.00" width="2.40" height="7.20" fill="#000" />
<rect x="669.00" y="413.60" width="1.80" height="3.60" fill="#000" />
<rect x="661.20" y="421.15" width="2.80" height="6.40" fill="#000" />
<rect x="666.00" y="422.75" width="3.20" height="4.40" fill="#000" />
<rect x="667.20" y="421.15" width="2.40" height="7.20" fill="#000" />
<rect x="669.00" y="422.75" width="1.80" height="3.60" fill="#000" />
<rect x="661.20" y="430.30" width="2.80" height="6.40" fill="#000" />
<rect x="666.00" y="431.90" width="3.20" height="4.40" fill="#000" />
<rect x="667.20" y="430.30" width="2.40" height="7.20" fill="#000" />
<rect x="669.00" y="431.90" width="1.80" height="3.60" fill="#000" />
<rect x="661.20" y="439.45" width="2.80" height="6.40" fill="#000" />
<rect x="666.00" y="441.05" width="3.20" height="4.40" fill="#000" />
<rect x="667.20" y="439.45" width="2.40" height="7.20" fill="#000" />
<rect x="669.00" y="441.05" width="1.80" height="3.60" fill="#000" />
<rect x="661.20" y="448.60" width="2.80" height="6.40" fill="#000" />
<rect x="666.00" y="450.20" width="3.20" height="4.40" fill="#000" />
<rect x="667.20" y="448.60" width="2.40" height="7.20" fill="#000" />
<rect x="669.00" y="450.20" width="1.80" height="3.60" fill="#000" />
<rect x="661.20" y="457.75" width="2.80" height="6.40" fill="#000" />
<rect x="666.00" y="459.35" width="3.20" height="4.40" fill="#000" />
<rect x="667.20" y="457.75" width="2.40" height="7.20" fill="#000" />
<rect x="669.00" y="459.35" width="1.80" height="3.60" fill="#000" />
<rect x="661.20" y="466.90" width="2.80" height="6.40" fill="#000" />
<rect x="666.00" y="468.50" width="3.20" height="4.40" fill="#000" />
<rect x="667.20" y="466.90" width="2.40" height="7.20" fill="#000" />
<rect x="669.00" y="468.50" width="1.80" height="3.60" fill="#000" />
<rect x="661.20" y="476.05" width="2.80" height="6.40" fill="#000" />
<rect x="666.00" y="477.65" width="3.20" height="4.40" fill="#000" />
<rect x="667.20" y="476.05" width="2.40" height="7.20" fill="#000" />
<rect x="669.00" y="477.65" width="1.80" height="3.60" fill="#000" />
<rect x="661.20" y="485.20" width="2.80" height="6.40" fill="#000" />
<rect x="666.00" y="486.80" width="3.20" height="4.40" fill="#000" />
<rect x="667.20" y="485.20" width="2.40" height="7.20" fill="#000" />
<rect x="669.00" y="486.80" width="1.80" height="3.60" fill="#000" />
<rect x="661.20" y="494.35" width="2.80" height="6.40" fill="#000" />
<rect x="666.00" y="495.95" width="3.20" height="4.40" fill="#000" />
<rect x="667.20" y="494.35" width="2.40" height="7.20" fill="#000" />
<rect x="669.00" y="495.95" width="1.80" height="3.60" fill="#000" />
<rect x="661.20" y="503.50" width="2.80" height="6.40" fill="#000" />
<rect x="666.00" y="505.10" width="3.20" height="4.40" fill="#000" />
<rect x="667.20" y="503.50" width="2.40" height="7.20" fill="#000" />
<rect x="669.00" y="505.10" width="1.80" height="3.60" fill="#000" />
<rect x="661.20" y="512.65" width="2.80" height="6.40" fill="#000" />
<rect x="666.00" y="514.25" width="3.20" height="4.40" fill="#000" />
<rect x="667.20" y="512.65" width="2.40" height="7.20" fill="#000" />
<rect x="669.00" y="514.25" width="1.80" height="3.60" fill="#000" />
<circle cx="702.7" cy="416.2" r="23.3" fill="#fff" stroke="#000" stroke-width="1.1"/>
<rect x="695.00" y="378.40" width="15.80" height="15.80" fill="#000" />
<path d="M699.3,379.6 H705.8 V425.6 L702.6,432 L699.3,425.6 Z" fill="#fff" stroke="#000" stroke-width="1"/>
<rect x="699.30" y="419.30" width="6.50" height="1.20" fill="#000" />
<polygon points="701.10,445.20 725.20,445.20 725.20,441.10 728.00,441.10 728.00,437.80 732.60,437.80 732.60,489.30 728.00,489.30 728.00,486.50 725.20,486.50 725.20,481.90 701.10,481.90 701.10,475.90 698.40,475.90 698.40,450.70 701.10,450.70" fill="#000"/>
<rect x="694.20" y="454.00" width="4.60" height="7.00" fill="#000" />
<rect x="695.20" y="455.00" width="3.20" height="5.00" fill="#fff" />
<rect x="694.20" y="465.20" width="4.60" height="8.40" fill="#000" />
<rect x="695.20" y="466.20" width="3.20" height="6.40" fill="#fff" />
<rect x="699.40" y="461.00" width="0.90" height="4.60" fill="#fff" />
<rect x="77.50" y="388.50" width="15.30" height="74.10" rx="3" fill="#fff" stroke="#000" stroke-width="1"/>
<text transform="translate(84.20,399.50) scale(0.85,1)" font-size="12.2" letter-spacing="0" text-anchor="middle" fill="#000">B</text>
<text transform="translate(84.20,414.45) scale(0.85,1)" font-size="12.2" letter-spacing="0" text-anchor="middle" fill="#000">A</text>
<text transform="translate(84.20,429.40) scale(0.85,1)" font-size="12.2" letter-spacing="0" text-anchor="middle" fill="#000">N</text>
<text transform="translate(84.20,444.35) scale(0.85,1)" font-size="12.2" letter-spacing="0" text-anchor="middle" fill="#000">K</text>
<text transform="translate(84.20,459.30) scale(0.85,1)" font-size="12.2" letter-spacing="0" text-anchor="middle" fill="#000">0</text>
<rect x="173.30" y="388.50" width="15.30" height="73.90" rx="3" fill="#fff" stroke="#000" stroke-width="1"/>
<text transform="translate(180.00,399.50) scale(0.85,1)" font-size="12.2" letter-spacing="0" text-anchor="middle" fill="#000">B</text>
<text transform="translate(180.00,414.45) scale(0.85,1)" font-size="12.2" letter-spacing="0" text-anchor="middle" fill="#000">A</text>
<text transform="translate(180.00,429.40) scale(0.85,1)" font-size="12.2" letter-spacing="0" text-anchor="middle" fill="#000">N</text>
<text transform="translate(180.00,444.35) scale(0.85,1)" font-size="12.2" letter-spacing="0" text-anchor="middle" fill="#000">K</text>
<text transform="translate(180.00,459.30) scale(0.85,1)" font-size="12.2" letter-spacing="0" text-anchor="middle" fill="#000">1</text>
<rect x="109.5" y="416" width="47.4" height="16.8" rx="3" fill="#000"/>
<rect x="110.4" y="416.9" width="45.2" height="14.8" rx="2.6" fill="#fff" stroke="#000" stroke-width="1.6"/>
<text transform="translate(110.84,429.00) scale(0.78,1)" font-size="14" letter-spacing="1.57" text-anchor="start" fill="#000">CACHE</text>
<rect x="69.00" y="37.00" width="7.00" height="14.00" fill="#000" />
<rect x="70.00" y="38.00" width="5.00" height="1.00" fill="#fff" />
<rect x="70.00" y="43.00" width="5.00" height="2.00" fill="#fff" />
<rect x="70.00" y="49.00" width="5.00" height="1.00" fill="#fff" />
<rect x="83.00" y="37.00" width="7.00" height="26.00" fill="#000" />
<rect x="84.00" y="38.00" width="5.00" height="24.00" fill="#fff" />
<rect x="85.00" y="39.00" width="3.00" height="3.00" fill="#000" />
<rect x="86.00" y="40.00" width="1.00" height="1.00" fill="#fff" />
<rect x="84.00" y="43.65" width="4.00" height="3.65" fill="#000" />
<rect x="84.00" y="48.80" width="4.00" height="3.65" fill="#000" />
<rect x="84.00" y="53.95" width="4.00" height="3.65" fill="#000" />
<rect x="84.00" y="59.10" width="4.00" height="2.65" fill="#000" />
<rect x="96.00" y="37.00" width="7.00" height="31.00" fill="#000" />
<rect x="97.00" y="38.00" width="5.00" height="29.00" fill="#fff" />
<rect x="98.00" y="39.00" width="3.00" height="3.00" fill="#000" />
<rect x="99.00" y="40.00" width="1.00" height="1.00" fill="#fff" />
<rect x="98.00" y="43.65" width="4.00" height="3.65" fill="#000" />
<rect x="98.00" y="48.80" width="4.00" height="3.65" fill="#000" />
<rect x="98.00" y="53.95" width="4.00" height="3.65" fill="#000" />
<rect x="98.00" y="59.10" width="4.00" height="3.65" fill="#000" />
<rect x="98.00" y="64.25" width="4.00" height="2.65" fill="#000" />
<rect x="92.00" y="105.00" width="13.00" height="20.00" fill="#000" />
<rect x="93.00" y="106.00" width="11.00" height="1.00" fill="#fff" />
<rect x="93.00" y="117.00" width="11.00" height="1.00" fill="#fff" />
<rect x="98.00" y="106.00" width="1.00" height="12.00" fill="#fff" />
<rect x="98.00" y="119.00" width="1.00" height="5.00" fill="#fff" />
<rect x="103.00" y="106.00" width="1.00" height="5.00" fill="#fff" />
<rect x="103.00" y="113.00" width="1.00" height="5.00" fill="#fff" />
<rect x="103.00" y="119.00" width="1.00" height="5.00" fill="#fff" />
<rect x="298.00" y="157.00" width="19.00" height="7.00" fill="#000" />
<rect x="299.00" y="158.00" width="17.00" height="5.00" fill="#fff" />
<rect x="300.00" y="159.00" width="3.00" height="3.00" fill="#000" />
<rect x="301.00" y="160.00" width="1.00" height="1.00" fill="#fff" />
<rect x="305.85" y="158.00" width="4.85" height="4.00" fill="#000" />
<rect x="312.20" y="158.00" width="3.85" height="4.00" fill="#000" />
<rect x="286.00" y="176.00" width="7.00" height="19.00" fill="#000" />
<rect x="287.00" y="177.00" width="5.00" height="17.00" fill="#fff" />
<rect x="288.00" y="178.00" width="3.00" height="3.00" fill="#000" />
<rect x="289.00" y="179.00" width="1.00" height="1.00" fill="#fff" />
<rect x="288.00" y="183.85" width="4.00" height="4.85" fill="#000" />
<rect x="288.00" y="190.20" width="4.00" height="3.85" fill="#000" />
<rect x="298.00" y="204.00" width="19.00" height="7.00" fill="#000" />
<rect x="299.00" y="205.00" width="17.00" height="5.00" fill="#fff" />
<rect x="300.00" y="206.00" width="3.00" height="3.00" fill="#000" />
<rect x="301.00" y="207.00" width="1.00" height="1.00" fill="#fff" />
<rect x="305.85" y="205.00" width="4.85" height="5.00" fill="#000" />
<rect x="312.20" y="205.00" width="3.85" height="5.00" fill="#000" />
<rect x="653.00" y="152.00" width="14.00" height="7.00" fill="#000" />
<rect x="654.00" y="153.00" width="12.00" height="5.00" fill="#fff" />
<rect x="654.50" y="153.00" width="5.50" height="4.00" fill="#000" />
<rect x="661.50" y="153.00" width="4.50" height="4.00" fill="#000" />
<rect x="321.00" y="253.00" width="6.60" height="13.40" fill="#000" />
<rect x="322.00" y="254.00" width="4.60" height="1.00" fill="#fff" />
<rect x="322.00" y="259.00" width="4.60" height="2.00" fill="#fff" />
<rect x="322.00" y="264.40" width="4.60" height="1.00" fill="#fff" />
<rect x="54.00" y="274.00" width="7.00" height="14.00" fill="#000" />
<rect x="55.00" y="275.00" width="5.00" height="1.00" fill="#fff" />
<rect x="55.00" y="280.00" width="5.00" height="2.00" fill="#fff" />
<rect x="55.00" y="286.00" width="5.00" height="1.00" fill="#fff" />
<rect x="65.00" y="274.00" width="7.00" height="14.00" fill="#000" />
<rect x="66.00" y="275.00" width="5.00" height="1.00" fill="#fff" />
<rect x="66.00" y="280.00" width="5.00" height="2.00" fill="#fff" />
<rect x="66.00" y="286.00" width="5.00" height="1.00" fill="#fff" />
<rect x="76.00" y="274.00" width="7.00" height="14.00" fill="#000" />
<rect x="77.00" y="275.00" width="5.00" height="1.00" fill="#fff" />
<rect x="77.00" y="280.00" width="5.00" height="2.00" fill="#fff" />
<rect x="77.00" y="286.00" width="5.00" height="1.00" fill="#fff" />
<rect x="58.00" y="292.00" width="20.00" height="7.00" fill="#000" />
<rect x="59.00" y="293.00" width="18.00" height="5.00" fill="#fff" />
<rect x="60.00" y="294.00" width="3.00" height="3.00" fill="#000" />
<rect x="61.00" y="295.00" width="1.00" height="1.00" fill="#fff" />
<rect x="66.10" y="294.00" width="5.10" height="4.00" fill="#000" />
<rect x="72.70" y="294.00" width="4.10" height="4.00" fill="#000" />
<rect x="58.00" y="301.00" width="20.00" height="6.00" fill="#000" />
<rect x="59.00" y="302.00" width="18.00" height="4.00" fill="#fff" />
<rect x="60.00" y="303.00" width="3.00" height="3.00" fill="#000" />
<rect x="61.00" y="304.00" width="1.00" height="1.00" fill="#fff" />
<rect x="66.10" y="303.00" width="5.10" height="3.00" fill="#000" />
<rect x="72.70" y="303.00" width="4.10" height="3.00" fill="#000" />
<rect x="273.00" y="353.00" width="7.00" height="14.00" fill="#000" />
<rect x="274.00" y="354.00" width="5.00" height="1.00" fill="#fff" />
<rect x="274.00" y="360.00" width="5.00" height="1.00" fill="#fff" />
<rect x="274.00" y="365.00" width="5.00" height="1.00" fill="#fff" />
<rect x="274.00" y="354.00" width="1.00" height="12.00" fill="#fff" />
<rect x="284.00" y="353.00" width="6.00" height="14.00" fill="#000" />
<rect x="285.00" y="354.00" width="4.00" height="1.00" fill="#fff" />
<rect x="285.00" y="360.00" width="4.00" height="1.00" fill="#fff" />
<rect x="285.00" y="365.00" width="4.00" height="1.00" fill="#fff" />
<rect x="298.00" y="353.00" width="7.00" height="14.00" fill="#000" />
<rect x="299.00" y="354.00" width="5.00" height="1.00" fill="#fff" />
<rect x="299.00" y="360.00" width="5.00" height="1.00" fill="#fff" />
<rect x="299.00" y="365.00" width="5.00" height="1.00" fill="#fff" />
<rect x="308.00" y="353.00" width="7.00" height="14.00" fill="#000" />
<rect x="309.00" y="354.00" width="5.00" height="1.00" fill="#fff" />
<rect x="309.00" y="360.00" width="5.00" height="1.00" fill="#fff" />
<rect x="309.00" y="365.00" width="5.00" height="1.00" fill="#fff" />
<rect x="309.00" y="354.00" width="1.00" height="12.00" fill="#fff" />
<rect x="688.00" y="280.00" width="26.00" height="7.00" fill="#000" />
<rect x="689.00" y="281.00" width="24.00" height="5.00" fill="#fff" />
<rect x="689.50" y="282.00" width="5.00" height="4.00" fill="#000" />
<rect x="696.00" y="282.00" width="5.00" height="4.00" fill="#000" />
<rect x="702.50" y="282.00" width="5.00" height="4.00" fill="#000" />
<rect x="710.00" y="282.00" width="3.00" height="3.00" fill="#000" />
<rect x="711.00" y="283.00" width="1.00" height="1.00" fill="#fff" />
<rect x="70.00" y="253.00" width="22.00" height="8.60" fill="#000" />
<polygon points="40.0,12.0 61.0,12.0 63.0,14.0 63.0,28.0 61.0,30.0 40.0,30.0 38.0,28.0 38.0,14.0" fill="#000"/>
<polygon points="41.0,14.0 60.0,14.0 61.0,15.0 61.0,27.0 60.0,28.0 41.0,28.0 40.0,27.0 40.0,15.0" fill="#fff"/>
<text transform="translate(42.63,25.40) scale(0.8,1)" font-size="13.8" letter-spacing="2.80" text-anchor="start" fill="#000">S1</text>
<polygon points="72.0,3.0 102.0,3.0 104.0,5.0 104.0,18.0 102.0,20.0 72.0,20.0 70.0,18.0 70.0,5.0" fill="#000"/>
<polygon points="73.0,5.0 101.0,5.0 102.0,6.0 102.0,17.0 101.0,18.0 73.0,18.0 72.0,17.0 72.0,6.0" fill="#fff"/>
<text transform="translate(75.83,16.00) scale(0.8,1)" font-size="13.8" letter-spacing="2.47" text-anchor="start" fill="#000">J18</text>
<polygon points="110.0,13.0 141.0,13.0 143.0,15.0 143.0,29.0 141.0,31.0 110.0,31.0 108.0,29.0 108.0,15.0" fill="#000"/>
<polygon points="111.0,15.0 140.0,15.0 141.0,16.0 141.0,28.0 140.0,29.0 111.0,29.0 110.0,28.0 110.0,16.0" fill="#fff"/>
<text transform="translate(112.73,26.90) scale(0.8,1)" font-size="13.8" letter-spacing="2.03" text-anchor="start" fill="#000">J20</text>
<polygon points="79.0,69.0 118.0,69.0 120.0,71.0 120.0,87.0 118.0,89.0 79.0,89.0 77.0,87.0 77.0,71.0" fill="#000"/>
<polygon points="80.0,71.0 117.0,71.0 118.0,72.0 118.0,86.0 117.0,87.0 80.0,87.0 79.0,86.0 79.0,72.0" fill="#fff"/>
<text transform="translate(82.03,83.60) scale(0.8,1)" font-size="13.8" letter-spacing="2.20" text-anchor="start" fill="#000">JP15</text>
<polygon points="38.0,107.0 76.0,107.0 78.0,109.0 78.0,124.0 76.0,126.0 38.0,126.0 36.0,124.0 36.0,109.0" fill="#000"/>
<polygon points="39.0,109.0 75.0,109.0 76.0,110.0 76.0,123.0 75.0,124.0 39.0,124.0 38.0,123.0 38.0,110.0" fill="#fff"/>
<text transform="translate(42.63,120.80) scale(0.8,1)" font-size="13.8" letter-spacing="1.91" text-anchor="start" fill="#000">JP16</text>
<polygon points="121.0,113.0 159.0,113.0 161.0,115.0 161.0,129.0 159.0,131.0 121.0,131.0 119.0,129.0 119.0,115.0" fill="#000"/>
<polygon points="122.0,115.0 158.0,115.0 159.0,116.0 159.0,128.0 158.0,129.0 122.0,129.0 121.0,128.0 121.0,116.0" fill="#fff"/>
<text transform="translate(126.53,126.50) scale(0.8,1)" font-size="13.8" letter-spacing="1.79" text-anchor="start" fill="#000">JP17</text>
<polygon points="293.0,122.0 323.0,122.0 325.0,124.0 325.0,139.0 323.0,141.0 293.0,141.0 291.0,139.0 291.0,124.0" fill="#000"/>
<polygon points="294.0,124.0 322.0,124.0 323.0,125.0 323.0,138.0 322.0,139.0 294.0,139.0 293.0,138.0 293.0,125.0" fill="#fff"/>
<text transform="translate(295.53,135.80) scale(0.8,1)" font-size="13.8" letter-spacing="2.08" text-anchor="start" fill="#000">JP5</text>
<polygon points="309.0,176.0 342.0,176.0 344.0,178.0 344.0,193.0 342.0,195.0 309.0,195.0 307.0,193.0 307.0,178.0" fill="#000"/>
<polygon points="310.0,178.0 341.0,178.0 342.0,179.0 342.0,192.0 341.0,193.0 310.0,193.0 309.0,192.0 309.0,179.0" fill="#fff"/>
<text transform="translate(312.63,190.20) scale(0.8,1)" font-size="13.8" letter-spacing="2.39" text-anchor="start" fill="#000">JP7</text>
<polygon points="334.0,198.0 366.0,198.0 368.0,200.0 368.0,214.0 366.0,216.0 334.0,216.0 332.0,214.0 332.0,200.0" fill="#000"/>
<polygon points="335.0,200.0 365.0,200.0 366.0,201.0 366.0,213.0 365.0,214.0 335.0,214.0 334.0,213.0 334.0,201.0" fill="#fff"/>
<text transform="translate(338.33,211.40) scale(0.8,1)" font-size="13.8" letter-spacing="2.20" text-anchor="start" fill="#000">JP6</text>
<polygon points="605.0,146.0 637.0,146.0 639.0,148.0 639.0,162.0 637.0,164.0 605.0,164.0 603.0,162.0 603.0,148.0" fill="#000"/>
<polygon points="606.0,148.0 636.0,148.0 637.0,149.0 637.0,161.0 636.0,162.0 606.0,162.0 605.0,161.0 605.0,149.0" fill="#fff"/>
<text transform="translate(608.63,159.80) scale(0.8,1)" font-size="13.8" letter-spacing="2.14" text-anchor="start" fill="#000">JP2</text>
<polygon points="344.0,250.0 375.0,250.0 377.0,252.0 377.0,266.0 375.0,268.0 344.0,268.0 342.0,266.0 342.0,252.0" fill="#000"/>
<polygon points="345.0,252.0 374.0,252.0 375.0,253.0 375.0,265.0 374.0,266.0 345.0,266.0 344.0,265.0 344.0,253.0" fill="#fff"/>
<text transform="translate(346.53,264.80) scale(0.8,1)" font-size="13.8" letter-spacing="2.20" text-anchor="start" fill="#000">JP4</text>
<polygon points="9.0,249.0 46.0,249.0 48.0,251.0 48.0,266.0 46.0,268.0 9.0,268.0 7.0,266.0 7.0,251.0" fill="#000"/>
<polygon points="10.0,251.0 45.0,251.0 46.0,252.0 46.0,265.0 45.0,266.0 10.0,266.0 9.0,265.0 9.0,252.0" fill="#fff"/>
<text transform="translate(11.43,262.70) scale(0.8,1)" font-size="13.8" letter-spacing="2.24" text-anchor="start" fill="#000">JP21</text>
<polygon points="49.0,238.0 88.0,238.0 90.0,240.0 90.0,254.0 88.0,256.0 49.0,256.0 47.0,254.0 47.0,240.0" fill="#000"/>
<polygon points="50.0,240.0 87.0,240.0 88.0,241.0 88.0,253.0 87.0,254.0 50.0,254.0 49.0,253.0 49.0,241.0" fill="#fff"/>
<text transform="translate(51.63,251.90) scale(0.8,1)" font-size="13.8" letter-spacing="2.33" text-anchor="start" fill="#000">JP20</text>
<polygon points="92.0,248.0 130.0,248.0 132.0,250.0 132.0,264.0 130.0,266.0 92.0,266.0 90.0,264.0 90.0,250.0" fill="#000"/>
<polygon points="93.0,250.0 129.0,250.0 130.0,251.0 130.0,263.0 129.0,264.0 93.0,264.0 92.0,263.0 92.0,251.0" fill="#fff"/>
<text transform="translate(96.03,262.70) scale(0.8,1)" font-size="13.8" letter-spacing="1.79" text-anchor="start" fill="#000">JP19</text>
<polygon points="5.0,287.0 41.0,287.0 43.0,289.0 43.0,302.0 41.0,304.0 5.0,304.0 3.0,302.0 3.0,289.0" fill="#000"/>
<polygon points="6.0,289.0 40.0,289.0 41.0,290.0 41.0,301.0 40.0,302.0 6.0,302.0 5.0,301.0 5.0,290.0" fill="#fff"/>
<text transform="translate(7.63,299.70) scale(0.8,1)" font-size="13.8" letter-spacing="1.99" text-anchor="start" fill="#000">JP22</text>
<polygon points="13.0,314.0 50.0,314.0 52.0,316.0 52.0,331.0 50.0,333.0 13.0,333.0 11.0,331.0 11.0,316.0" fill="#000"/>
<polygon points="14.0,316.0 49.0,316.0 50.0,317.0 50.0,330.0 49.0,331.0 14.0,331.0 13.0,330.0 13.0,317.0" fill="#fff"/>
<text transform="translate(15.83,327.90) scale(0.8,1)" font-size="13.8" letter-spacing="2.12" text-anchor="start" fill="#000">JP23</text>
<polygon points="239.0,328.0 275.0,328.0 277.0,330.0 277.0,344.0 275.0,346.0 239.0,346.0 237.0,344.0 237.0,330.0" fill="#000"/>
<polygon points="240.0,330.0 274.0,330.0 275.0,331.0 275.0,343.0 274.0,344.0 240.0,344.0 239.0,343.0 239.0,331.0" fill="#fff"/>
<text transform="translate(241.73,341.00) scale(0.8,1)" font-size="13.8" letter-spacing="1.37" text-anchor="start" fill="#000">JP11</text>
<polygon points="219.0,351.0 256.0,351.0 258.0,353.0 258.0,366.0 256.0,368.0 219.0,368.0 217.0,366.0 217.0,353.0" fill="#000"/>
<polygon points="220.0,353.0 255.0,353.0 256.0,354.0 256.0,365.0 255.0,366.0 220.0,366.0 219.0,365.0 219.0,354.0" fill="#fff"/>
<text transform="translate(222.73,364.20) scale(0.8,1)" font-size="13.8" letter-spacing="1.62" text-anchor="start" fill="#000">JP12</text>
<polygon points="312.0,329.0 343.0,329.0 345.0,331.0 345.0,345.0 343.0,347.0 312.0,347.0 310.0,345.0 310.0,331.0" fill="#000"/>
<polygon points="313.0,331.0 342.0,331.0 343.0,332.0 343.0,344.0 342.0,345.0 313.0,345.0 312.0,344.0 312.0,332.0" fill="#fff"/>
<text transform="translate(314.53,342.00) scale(0.8,1)" font-size="13.8" letter-spacing="2.64" text-anchor="start" fill="#000">JP9</text>
<polygon points="331.0,351.0 363.0,351.0 365.0,353.0 365.0,367.0 363.0,369.0 331.0,369.0 329.0,367.0 329.0,353.0" fill="#000"/>
<polygon points="332.0,353.0 362.0,353.0 363.0,354.0 363.0,366.0 362.0,367.0 332.0,367.0 331.0,366.0 331.0,354.0" fill="#fff"/>
<text transform="translate(335.23,364.80) scale(0.8,1)" font-size="13.8" letter-spacing="2.58" text-anchor="start" fill="#000">JP8</text>
<polygon points="731.0,274.0 752.0,274.0 754.0,276.0 754.0,291.0 752.0,293.0 731.0,293.0 729.0,291.0 729.0,276.0" fill="#000"/>
<polygon points="732.0,276.0 751.0,276.0 752.0,277.0 752.0,290.0 751.0,291.0 732.0,291.0 731.0,290.0 731.0,277.0" fill="#fff"/>
<text transform="translate(732.63,287.70) scale(0.8,1)" font-size="13.8" letter-spacing="1.86" text-anchor="start" fill="#000">J9</text>
<line x1="61.00" y1="28.50" x2="70.60" y2="37.60" stroke="#000" stroke-width="4.2" />
<line x1="60.52" y1="28.05" x2="66.95" y2="34.14" stroke="#fff" stroke-width="1.3" />
<polygon points="83.50,18.50 88.90,18.50 87.50,29.12 87.50,37.40 84.90,37.40 84.90,29.12" fill="#000" style="shape-rendering:auto"/>
<polygon points="85.20,16.80 87.20,16.80 86.20,26.73" fill="#fff" style="shape-rendering:auto"/>
<line x1="108.80" y1="30.20" x2="101.80" y2="37.60" stroke="#000" stroke-width="4.2" />
<line x1="109.15" y1="29.83" x2="104.46" y2="34.79" stroke="#fff" stroke-width="1.3" />
<polygon points="94.70,87.40 100.10,87.40 98.70,97.31 98.70,105.00 96.10,105.00 96.10,97.31" fill="#000" style="shape-rendering:auto"/>
<polygon points="96.40,85.70 98.40,85.70 97.40,95.08" fill="#fff" style="shape-rendering:auto"/>
<polygon points="77.00,112.08 89.32,115.80 77.00,119.52" fill="#fff" stroke="#000" stroke-width="2" stroke-linejoin="miter"/>
<line x1="85.47" y1="115.80" x2="92.40" y2="115.80" stroke="#000" stroke-width="3.0" />
<line x1="76.00" y1="112.80" x2="76.00" y2="118.80" stroke="#fff" stroke-width="2.8" />
<polygon points="120.00,118.42 107.68,122.30 120.00,126.17" fill="#fff" stroke="#000" stroke-width="2" stroke-linejoin="miter"/>
<line x1="111.53" y1="122.30" x2="104.60" y2="122.30" stroke="#000" stroke-width="3.0" />
<line x1="121.00" y1="119.17" x2="121.00" y2="125.42" stroke="#fff" stroke-width="2.8" />
<polygon points="305.10,139.20 310.50,139.20 309.10,149.44 309.10,157.40 306.50,157.40 306.50,149.44" fill="#000" style="shape-rendering:auto"/>
<polygon points="306.80,137.50 308.80,137.50 307.80,147.13" fill="#fff" style="shape-rendering:auto"/>
<polygon points="308.90,181.62 295.70,185.50 308.90,189.38" fill="#fff" stroke="#000" stroke-width="2" stroke-linejoin="miter"/>
<line x1="299.82" y1="185.50" x2="292.40" y2="185.50" stroke="#000" stroke-width="3.0" />
<line x1="309.90" y1="182.38" x2="309.90" y2="188.62" stroke="#fff" stroke-width="2.8" />
<polygon points="333.30,203.22 319.94,207.50 333.30,210.97" fill="#fff" stroke="#000" stroke-width="2" stroke-linejoin="miter"/>
<line x1="324.12" y1="207.38" x2="316.60" y2="207.60" stroke="#000" stroke-width="3.0" />
<line x1="334.30" y1="203.97" x2="334.30" y2="210.22" stroke="#fff" stroke-width="2.8" />
<polygon points="637.90,151.22 650.46,155.10 637.90,158.97" fill="#fff" stroke="#000" stroke-width="2" stroke-linejoin="miter"/>
<line x1="646.53" y1="155.10" x2="653.60" y2="155.10" stroke="#000" stroke-width="3.0" />
<line x1="636.90" y1="151.97" x2="636.90" y2="158.22" stroke="#fff" stroke-width="2.8" />
<polygon points="343.80,255.62 330.84,259.58 343.80,263.38" fill="#fff" stroke="#000" stroke-width="2" stroke-linejoin="miter"/>
<line x1="334.89" y1="259.56" x2="327.60" y2="259.60" stroke="#000" stroke-width="3.0" />
<line x1="344.80" y1="256.38" x2="344.80" y2="262.62" stroke="#fff" stroke-width="2.8" />
<line x1="46.30" y1="266.30" x2="56.00" y2="274.40" stroke="#000" stroke-width="4.2" />
<line x1="45.81" y1="265.90" x2="52.31" y2="271.32" stroke="#fff" stroke-width="1.3" />
<polygon points="65.10,254.80 70.50,254.80 69.70,265.81 69.70,274.40 67.10,274.40 67.10,265.81" fill="#000" style="shape-rendering:auto"/>
<polygon points="66.80,253.10 68.80,253.10 68.10,263.32" fill="#fff" style="shape-rendering:auto"/>
<line x1="92.20" y1="264.00" x2="81.80" y2="274.40" stroke="#000" stroke-width="4.2" />
<line x1="92.72" y1="263.48" x2="85.75" y2="270.45" stroke="#fff" stroke-width="1.3" />
<polygon points="42.10,292.02 55.30,295.50 42.10,299.77" fill="#fff" stroke="#000" stroke-width="2" stroke-linejoin="miter"/>
<line x1="51.18" y1="295.62" x2="58.60" y2="295.40" stroke="#000" stroke-width="3.0" />
<line x1="41.10" y1="292.77" x2="41.10" y2="299.02" stroke="#fff" stroke-width="2.8" />
<line x1="50.30" y1="316.00" x2="60.40" y2="307.00" stroke="#000" stroke-width="4.2" />
<line x1="49.79" y1="316.45" x2="56.56" y2="310.42" stroke="#fff" stroke-width="1.3" />
<line x1="275.80" y1="344.00" x2="285.80" y2="353.00" stroke="#000" stroke-width="4.2" />
<line x1="275.30" y1="343.55" x2="282.00" y2="349.58" stroke="#fff" stroke-width="1.3" />
<polygon points="257.00,356.02 270.12,359.82 257.00,363.77" fill="#fff" stroke="#000" stroke-width="2" stroke-linejoin="miter"/>
<line x1="266.02" y1="359.84" x2="273.40" y2="359.80" stroke="#000" stroke-width="3.0" />
<line x1="256.00" y1="356.77" x2="256.00" y2="363.02" stroke="#fff" stroke-width="2.8" />
<line x1="311.00" y1="346.20" x2="302.60" y2="353.00" stroke="#000" stroke-width="4.2" />
<line x1="311.42" y1="345.86" x2="305.79" y2="350.42" stroke="#fff" stroke-width="1.3" />
<polygon points="330.30,356.62 317.74,360.42 330.30,364.38" fill="#fff" stroke="#000" stroke-width="2" stroke-linejoin="miter"/>
<line x1="321.67" y1="360.44" x2="314.60" y2="360.40" stroke="#000" stroke-width="3.0" />
<line x1="331.30" y1="357.38" x2="331.30" y2="363.62" stroke="#fff" stroke-width="2.8" />
<polygon points="730.40,279.62 717.28,283.50 730.40,287.38" fill="#fff" stroke="#000" stroke-width="2" stroke-linejoin="miter"/>
<line x1="721.38" y1="283.50" x2="714.00" y2="283.50" stroke="#000" stroke-width="3.0" />
<line x1="731.40" y1="280.38" x2="731.40" y2="286.62" stroke="#fff" stroke-width="2.8" />
</g>
</svg>
</body></html>
